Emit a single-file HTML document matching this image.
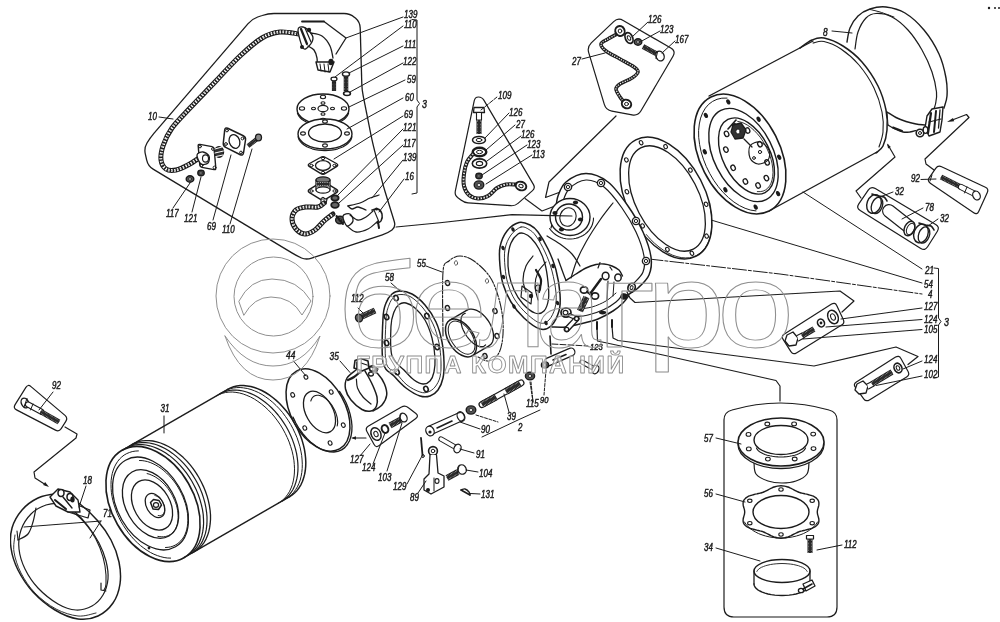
<!DOCTYPE html>
<html lang="ru"><head><meta charset="utf-8"><title>Схема</title>
<style>
html,body{margin:0;padding:0;background:#fff}
body{width:1000px;height:622px;overflow:hidden}
svg{display:block}
svg text{font-family:"Liberation Sans",sans-serif;font-style:italic;fill:#1c1c1c;stroke:#1c1c1c;stroke-width:0.45px}
svg .wm text,svg text.wm{font-style:normal;fill:none;stroke-width:1px}
</style></head><body>
<svg width="1000" height="622" viewBox="0 0 1000 622" stroke-linecap="round" stroke-linejoin="round">
<defs><filter id="soft" x="0" y="0" width="100%" height="100%"><feGaussianBlur stdDeviation="0.35"/></filter></defs>
<rect width="1000" height="622" fill="#fff"/>
<g filter="url(#soft)">
<path d="M248.1 23.6 Q252 19 257.7 17 L262.3 15.5 Q268 13.5 274 13.5 L344 13.5 Q350 13.5 354.6 17.4 L355.4 18.1 Q360 22 360.2 28 L361.8 84 Q362 90 363.2 95.9 L370.8 134.1 Q372 140 373.4 145.8 L381.6 179.2 Q383 185 384.8 190.7 L394.2 221.3 Q396 227 392 230 L392 230 Q388 233 382.3 234.9 L311.7 258.1 Q306 260 301.5 258 L301.5 258 Q297 256 291.9 252.9 L153.1 169.1 Q148 166 146.7 160.1 L145.3 153.9 Q144 148 147 143 L147 143 Q150 138 153.9 133.4 Z" fill="none" stroke="#1c1c1c" stroke-width="1.3"/>
<path d="M299 34 C295.8 33.7 286.2 31.3 280 32 C273.8 32.7 268.7 34 262 38 C255.3 42 247.8 48.7 240 56 C232.2 63.3 223.3 73.3 215 82 C206.7 90.7 197.2 100.3 190 108 C182.8 115.7 176.5 121.7 172 128 C167.5 134.3 164.8 140.7 163 146 C161.2 151.3 160.5 156.2 161 160 C161.5 163.8 163.5 167.3 166 169 C168.5 170.7 172.3 170.7 176 170 C179.7 169.3 184.2 167 188 165 C191.8 163 197.2 159.2 199 158" fill="none" stroke="#1c1c1c" stroke-width="5" stroke-linecap="round"/>
<path d="M299 34 C295.8 33.7 286.2 31.3 280 32 C273.8 32.7 268.7 34 262 38 C255.3 42 247.8 48.7 240 56 C232.2 63.3 223.3 73.3 215 82 C206.7 90.7 197.2 100.3 190 108 C182.8 115.7 176.5 121.7 172 128 C167.5 134.3 164.8 140.7 163 146 C161.2 151.3 160.5 156.2 161 160 C161.5 163.8 163.5 167.3 166 169 C168.5 170.7 172.3 170.7 176 170 C179.7 169.3 184.2 167 188 165 C191.8 163 197.2 159.2 199 158" fill="none" stroke="#fff" stroke-width="2.8" stroke-dasharray="1.6 1.4" stroke-linecap="butt"/>
<path d="M299 34 C295.8 33.7 286.2 31.3 280 32 C273.8 32.7 268.7 34 262 38 C255.3 42 247.8 48.7 240 56 C232.2 63.3 223.3 73.3 215 82 C206.7 90.7 197.2 100.3 190 108 C182.8 115.7 176.5 121.7 172 128 C167.5 134.3 164.8 140.7 163 146 C161.2 151.3 160.5 156.2 161 160 C161.5 163.8 163.5 167.3 166 169 C168.5 170.7 172.3 170.7 176 170 C179.7 169.3 184.2 167 188 165 C191.8 163 197.2 159.2 199 158" fill="none" stroke="#1c1c1c" stroke-width="0.5" stroke-dasharray="1.5 1.5" stroke-dashoffset="0.7" stroke-linecap="butt"/>
<path d="M298 30 C298 26.5 301.2 26.8 303 27 C304.8 27.2 307.3 29.2 309 31 C310.7 32.8 313 35.5 313 38 C313 40.5 310.7 44.3 309 46 C307.3 47.7 304.8 50.7 303 48 C301.2 45.3 298 33.5 298 30 Z" fill="#fff" stroke="#1c1c1c" stroke-width="1.3" />
<path d="M301 29 L307 44" fill="none" stroke="#1c1c1c" stroke-width="2.2" />
<path d="M305 28 L311 42" fill="none" stroke="#1c1c1c" stroke-width="1.2" />
<ellipse cx="309" cy="30" rx="2.2" ry="2.2" fill="#1c1c1c" stroke="none" stroke-width="0"/>
<ellipse cx="302" cy="47" rx="2" ry="2" fill="#1c1c1c" stroke="none" stroke-width="0"/>
<path d="M311 33 C312.8 33.5 318.8 33.8 322 36 C325.2 38.2 328.2 42.3 330 46 C331.8 49.7 332.5 56 333 58" fill="none" stroke="#1c1c1c" stroke-width="1.3" />
<path d="M308 46 C309 46.7 312.5 48 314 50 C315.5 52 316.5 55.7 317 58 C317.5 60.3 317 63 317 64" fill="none" stroke="#1c1c1c" stroke-width="1.3" />
<path d="M316 62 L318 70 L330 72 L334 62 L316 62" fill="#fff" stroke="#1c1c1c" stroke-width="1.4" />
<path d="M320 64 L321 71" fill="none" stroke="#1c1c1c" stroke-width="1" />
<path d="M324 64 L325 72" fill="none" stroke="#1c1c1c" stroke-width="1" />
<path d="M328 64 L329 72" fill="none" stroke="#1c1c1c" stroke-width="1" />
<ellipse cx="331" cy="62" rx="2.6" ry="3.2" fill="#1c1c1c" stroke="none" stroke-width="0"/>
<path d="M302 21.5 L324 21.5" fill="none" stroke="#1c1c1c" stroke-width="1.8" />
<path d="M324 21.5 L346 38 L336 54" fill="none" stroke="#1c1c1c" stroke-width="1.3" />
<path d="M334 80 L334 91" stroke="#1c1c1c" stroke-width="4.2" stroke-linecap="butt" fill="none"/>
<path d="M334 80 L334 91" stroke="#fff" stroke-width="2.6" stroke-dasharray="0.45 1.0" stroke-linecap="butt" fill="none"/>
<path d="M334 80 L334 91" stroke="#2a2a2a" stroke-width="1.8" stroke-linecap="butt" fill="none"/>
<ellipse cx="334" cy="79" rx="3" ry="1.8" fill="#fff" stroke="#1c1c1c" stroke-width="1.2"/>
<path d="M346 75 L346 91" stroke="#1c1c1c" stroke-width="4.6" stroke-linecap="butt" fill="none"/>
<path d="M346 75 L346 91" stroke="#fff" stroke-width="3" stroke-dasharray="0.45 1.0" stroke-linecap="butt" fill="none"/>
<path d="M346 75 L346 91" stroke="#2a2a2a" stroke-width="1.9" stroke-linecap="butt" fill="none"/>
<ellipse cx="346" cy="74" rx="3.6" ry="2.2" fill="#fff" stroke="#1c1c1c" stroke-width="1.3"/>
<ellipse cx="347" cy="93.5" rx="3.4" ry="2" fill="#fff" stroke="#1c1c1c" stroke-width="1.6"/>
<ellipse cx="323" cy="109" rx="26" ry="15" fill="#fff" stroke="#1c1c1c" stroke-width="1.4"/>
<path d="M348.6 113.1 L347.9 114.8 L346.9 116.4 L345.5 118 L343.9 119.5 L341.9 120.8 L339.7 122 L337.3 123 L334.7 123.9 L331.9 124.6 L329 125.1 L326 125.4 L323 125.5 L320 125.4 L317 125.1 L314.1 124.6 L311.3 123.9 L308.7 123 L306.3 122 L304.1 120.8 L302.1 119.5 L300.5 118 L299.1 116.4 L298.1 114.8 L297.4 113.1" fill="none" stroke="#1c1c1c" stroke-width="1.2" />
<ellipse cx="344" cy="108.5" rx="2.6" ry="1.7" fill="none" stroke="#1c1c1c" stroke-width="1.1"/>
<ellipse cx="332.5" cy="108.5" rx="2" ry="1.3" fill="none" stroke="#1c1c1c" stroke-width="1.1"/>
<ellipse cx="323" cy="120" rx="2.6" ry="1.7" fill="none" stroke="#1c1c1c" stroke-width="1.1"/>
<ellipse cx="323" cy="114" rx="2" ry="1.3" fill="none" stroke="#1c1c1c" stroke-width="1.1"/>
<ellipse cx="302" cy="108.5" rx="2.6" ry="1.7" fill="none" stroke="#1c1c1c" stroke-width="1.1"/>
<ellipse cx="313.5" cy="108.5" rx="2" ry="1.3" fill="none" stroke="#1c1c1c" stroke-width="1.1"/>
<ellipse cx="323" cy="97" rx="2.6" ry="1.7" fill="none" stroke="#1c1c1c" stroke-width="1.1"/>
<ellipse cx="323" cy="103" rx="2" ry="1.3" fill="none" stroke="#1c1c1c" stroke-width="1.1"/>
<ellipse cx="323" cy="108.5" rx="5" ry="3.2" fill="none" stroke="#1c1c1c" stroke-width="1.2"/>
<ellipse cx="325" cy="134" rx="27" ry="15" fill="#fff" stroke="#1c1c1c" stroke-width="1.4"/>
<path d="M351.9 136.9 L351.4 138.7 L350.5 140.5 L349.2 142.2 L347.6 143.8 L345.6 145.3 L343.2 146.7 L340.6 147.8 L337.8 148.8 L334.8 149.6 L331.6 150.1 L328.3 150.5 L325 150.6 L321.7 150.5 L318.4 150.1 L315.2 149.6 L312.2 148.8 L309.4 147.8 L306.8 146.7 L304.4 145.3 L302.4 143.8 L300.8 142.2 L299.5 140.5 L298.6 138.7 L298.1 136.9" fill="none" stroke="#1c1c1c" stroke-width="1.2" />
<ellipse cx="325" cy="133" rx="16.5" ry="9" fill="none" stroke="#1c1c1c" stroke-width="1.3"/>
<ellipse cx="347" cy="133.5" rx="2.4" ry="1.6" fill="none" stroke="#1c1c1c" stroke-width="1.1"/>
<ellipse cx="325" cy="145.5" rx="2.4" ry="1.6" fill="none" stroke="#1c1c1c" stroke-width="1.1"/>
<ellipse cx="303" cy="133.5" rx="2.4" ry="1.6" fill="none" stroke="#1c1c1c" stroke-width="1.1"/>
<ellipse cx="325" cy="121.5" rx="2.4" ry="1.6" fill="none" stroke="#1c1c1c" stroke-width="1.1"/>
<path d="M320.4 157.5 Q323 156 325.6 157.5 L336.4 163.5 Q339 165 336.5 166.6 L325.5 173.4 Q323 175 320.5 173.4 L309.5 166.6 Q307 165 309.6 163.5 Z" fill="#fff" stroke="#1c1c1c" stroke-width="1.4"/>
<ellipse cx="323" cy="165.5" rx="7.5" ry="4.8" fill="none" stroke="#1c1c1c" stroke-width="1.3"/>
<ellipse cx="323" cy="158.5" rx="1.7" ry="1.2" fill="none" stroke="#1c1c1c" stroke-width="1"/>
<ellipse cx="334.5" cy="165.5" rx="1.7" ry="1.2" fill="none" stroke="#1c1c1c" stroke-width="1"/>
<ellipse cx="323" cy="172.5" rx="1.7" ry="1.2" fill="none" stroke="#1c1c1c" stroke-width="1"/>
<ellipse cx="311.5" cy="165.5" rx="1.7" ry="1.2" fill="none" stroke="#1c1c1c" stroke-width="1"/>
<path d="M320.5 182.6 Q323 181 325.5 182.6 L336.5 189.4 Q339 191 336.5 192.6 L325.5 199.4 Q323 201 320.5 199.4 L309.5 192.6 Q307 191 309.5 189.4 Z" fill="#fff" stroke="#1c1c1c" stroke-width="1.4"/>
<path d="M316 180 L316 190 L330 190 L330 180" fill="#fff" stroke="#1c1c1c" stroke-width="1.3" />
<ellipse cx="323" cy="190" rx="7" ry="3.2" fill="#fff" stroke="#1c1c1c" stroke-width="1.2"/>
<ellipse cx="323" cy="180" rx="7" ry="3.2" fill="#777" stroke="#1c1c1c" stroke-width="1.3"/>
<path d="M316.5 184 L329.5 184" stroke="#1c1c1c" stroke-width="5" stroke-linecap="butt" fill="none"/>
<path d="M316.5 184 L329.5 184" stroke="#fff" stroke-width="3.4" stroke-dasharray="0.9 0.9" stroke-linecap="butt" fill="none"/>
<path d="M316.5 184 L329.5 184" stroke="#2a2a2a" stroke-width="2.1" stroke-linecap="butt" fill="none"/>
<ellipse cx="334.5" cy="191" rx="1.6" ry="1.2" fill="none" stroke="#1c1c1c" stroke-width="1"/>
<ellipse cx="323" cy="198.5" rx="1.6" ry="1.2" fill="none" stroke="#1c1c1c" stroke-width="1"/>
<ellipse cx="311.5" cy="191" rx="1.6" ry="1.2" fill="none" stroke="#1c1c1c" stroke-width="1"/>
<ellipse cx="335" cy="198" rx="3.6" ry="2.6" fill="#666" stroke="#1c1c1c" stroke-width="1.8"/>
<ellipse cx="335" cy="205" rx="3.8" ry="2.8" fill="#666" stroke="#1c1c1c" stroke-width="1.8"/>
<path d="M321 199 L327 199 L326 204 L321 204 Z" fill="#fff" stroke="#1c1c1c" stroke-width="1.2" />
<path d="M324 203 C323 203.7 321 206.3 318 207 C315 207.7 309.7 206.5 306 207 C302.3 207.5 298.3 208 296 210 C293.7 212 292 215.8 292 219 C292 222.2 293.8 226.5 296 229 C298.2 231.5 301.8 233.8 305 234 C308.2 234.2 311.8 232.2 315 230 C318.2 227.8 321 223.7 324 221 C327 218.3 331.5 215.2 333 214" fill="none" stroke="#1c1c1c" stroke-width="5" stroke-linecap="round"/>
<path d="M324 203 C323 203.7 321 206.3 318 207 C315 207.7 309.7 206.5 306 207 C302.3 207.5 298.3 208 296 210 C293.7 212 292 215.8 292 219 C292 222.2 293.8 226.5 296 229 C298.2 231.5 301.8 233.8 305 234 C308.2 234.2 311.8 232.2 315 230 C318.2 227.8 321 223.7 324 221 C327 218.3 331.5 215.2 333 214" fill="none" stroke="#fff" stroke-width="2.8" stroke-dasharray="1.6 1.4" stroke-linecap="butt"/>
<path d="M324 203 C323 203.7 321 206.3 318 207 C315 207.7 309.7 206.5 306 207 C302.3 207.5 298.3 208 296 210 C293.7 212 292 215.8 292 219 C292 222.2 293.8 226.5 296 229 C298.2 231.5 301.8 233.8 305 234 C308.2 234.2 311.8 232.2 315 230 C318.2 227.8 321 223.7 324 221 C327 218.3 331.5 215.2 333 214" fill="none" stroke="#1c1c1c" stroke-width="0.5" stroke-dasharray="1.5 1.5" stroke-dashoffset="0.7" stroke-linecap="butt"/>
<ellipse cx="340" cy="220" rx="4.4" ry="3.7" fill="#555" stroke="#1c1c1c" stroke-width="1.4"/>
<ellipse cx="340" cy="220" rx="1.8" ry="1.5" fill="#ddd" stroke="#1c1c1c" stroke-width="0.8"/>
<path d="M336.5 216 L343 224" fill="none" stroke="#1c1c1c" stroke-width="2" />
<path d="M343 216 C343.5 214 348.3 213.2 350 214 C351.7 214.8 353.5 219 353 221 C352.5 223 348.7 226.8 347 226 C345.3 225.2 342.5 218 343 216 Z" fill="#fff" stroke="#1c1c1c" stroke-width="1.3" />
<path d="M350 215 C351.3 215.8 355.3 219.7 358 220 C360.7 220.3 363.5 218.5 366 217 C368.5 215.5 371.8 212 373 211" fill="none" stroke="#1c1c1c" stroke-width="1.3" />
<path d="M347 226 C348.5 227 352.5 231.5 356 232 C359.5 232.5 364.3 230.8 368 229 C371.7 227.2 376.3 222.3 378 221" fill="none" stroke="#1c1c1c" stroke-width="1.3" />
<path d="M372 210 C373 209.8 376.3 208.3 378 209 C379.7 209.7 381.5 212 382 214 C382.5 216 381.8 219.5 381 221 C380.2 222.5 377.7 222.7 377 223" fill="none" stroke="#1c1c1c" stroke-width="1.5" />
<path d="M374 210 L379 222" fill="none" stroke="#1c1c1c" stroke-width="1.1" />
<path d="M378 222 L379 228" fill="none" stroke="#1c1c1c" stroke-width="2" />
<ellipse cx="376.5" cy="209" rx="1.6" ry="1.6" fill="#1c1c1c" stroke="none" stroke-width="0"/>
<path d="M348 206 C350 205.5 356.3 204.3 360 203 C363.7 201.7 366.8 199.3 370 198 C373.2 196.7 377.5 195.5 379 195" fill="none" stroke="#1c1c1c" stroke-width="1.3" />
<path d="M348 206 C348.7 206.5 350.3 208.8 352 209 C353.7 209.2 355.7 206.8 358 207 C360.3 207.2 364.7 209.5 366 210" fill="none" stroke="#1c1c1c" stroke-width="1.3" />
<path d="M198.2 146 Q198 144 200 144.4 L212 146.6 Q214 147 214.2 149 L215.8 168 Q216 170 214 169.6 L202 167.4 Q200 167 199.8 165 Z" fill="#fff" stroke="#1c1c1c" stroke-width="1.4"/>
<path d="M197 155 C197.3 153 201 151.8 203 152 C205 152.2 208.2 154.2 209 156 C209.8 157.8 209.3 161.7 208 163 C206.7 164.3 202.8 165.3 201 164 C199.2 162.7 196.7 157 197 155 Z" fill="#fff" stroke="#1c1c1c" stroke-width="1.3" />
<ellipse cx="205.5" cy="158.5" rx="3" ry="3.6" fill="none" stroke="#1c1c1c" stroke-width="1.1"/>
<ellipse cx="200" cy="146.5" rx="1.4" ry="1.4" fill="none" stroke="#1c1c1c" stroke-width="1"/>
<ellipse cx="213" cy="149" rx="1.4" ry="1.4" fill="none" stroke="#1c1c1c" stroke-width="1"/>
<ellipse cx="214.5" cy="167.5" rx="1.4" ry="1.4" fill="none" stroke="#1c1c1c" stroke-width="1"/>
<ellipse cx="201.5" cy="165.5" rx="1.4" ry="1.4" fill="none" stroke="#1c1c1c" stroke-width="1"/>
<ellipse cx="219" cy="152" rx="4.6" ry="5.4" fill="#333" stroke="#1c1c1c" stroke-width="1.2"/>
<path d="M215 149 L222 147" fill="none" stroke="#fff" stroke-width="1" />
<path d="M215 153 L223.5 151" fill="none" stroke="#fff" stroke-width="1" />
<path d="M216 156.5 L223 155" fill="none" stroke="#fff" stroke-width="1" />
<path d="M224.7 130 Q225 127 227.7 128.3 L243.3 135.7 Q246 137 245.5 140 L243.5 153 Q243 156 240.3 154.7 L225.7 147.3 Q223 146 223.3 143 Z" fill="#fff" stroke="#1c1c1c" stroke-width="1.5"/>
<ellipse cx="234.5" cy="141.5" rx="5.2" ry="7" fill="none" stroke="#1c1c1c" stroke-width="1.3" transform="rotate(-20 234.5 141.5)"/>
<ellipse cx="227" cy="130.5" rx="1.4" ry="1.4" fill="none" stroke="#1c1c1c" stroke-width="1"/>
<ellipse cx="242.5" cy="138.5" rx="1.4" ry="1.4" fill="none" stroke="#1c1c1c" stroke-width="1"/>
<ellipse cx="241" cy="152.5" rx="1.4" ry="1.4" fill="none" stroke="#1c1c1c" stroke-width="1"/>
<ellipse cx="226" cy="144" rx="1.4" ry="1.4" fill="none" stroke="#1c1c1c" stroke-width="1"/>
<path d="M248 146 L257 139" stroke="#1c1c1c" stroke-width="4.4" stroke-linecap="butt" fill="none"/>
<path d="M248 146 L257 139" stroke="#fff" stroke-width="2.8" stroke-dasharray="0.45 1.0" stroke-linecap="butt" fill="none"/>
<path d="M248 146 L257 139" stroke="#2a2a2a" stroke-width="1.8" stroke-linecap="butt" fill="none"/>
<ellipse cx="258.5" cy="137.5" rx="3" ry="3.4" fill="#888" stroke="#1c1c1c" stroke-width="1.3"/>
<ellipse cx="190" cy="179" rx="3.8" ry="3.2" fill="#555" stroke="#1c1c1c" stroke-width="1.4"/>
<ellipse cx="190" cy="179" rx="1.5" ry="1.3" fill="#ddd" stroke="#1c1c1c" stroke-width="0.8"/>
<ellipse cx="201" cy="173" rx="3.2" ry="2.7" fill="#555" stroke="#1c1c1c" stroke-width="1.4"/>
<ellipse cx="201" cy="173" rx="1.3" ry="1.1" fill="#ddd" stroke="#1c1c1c" stroke-width="0.8"/>
<path d="M403 17 L346 38" fill="none" stroke="#1c1c1c" stroke-width="1" />
<path d="M403 26 L335 77" fill="none" stroke="#1c1c1c" stroke-width="1" />
<path d="M403 46 L349 73" fill="none" stroke="#1c1c1c" stroke-width="1" />
<path d="M403 63 L350 92" fill="none" stroke="#1c1c1c" stroke-width="1" />
<path d="M405 80 L349 107" fill="none" stroke="#1c1c1c" stroke-width="1" />
<path d="M403 98 L347 129" fill="none" stroke="#1c1c1c" stroke-width="1" />
<path d="M403 116 L334 159" fill="none" stroke="#1c1c1c" stroke-width="1" />
<path d="M403 129 L337 196" fill="none" stroke="#1c1c1c" stroke-width="1" />
<path d="M403 145 L339 203" fill="none" stroke="#1c1c1c" stroke-width="1" />
<path d="M403 160 L372 198" fill="none" stroke="#1c1c1c" stroke-width="1" />
<path d="M404 179 L379 212" fill="none" stroke="#1c1c1c" stroke-width="1" />
<path d="M159 117 L173 119" fill="none" stroke="#1c1c1c" stroke-width="1" />
<path d="M190 183 L173 208" fill="none" stroke="#1c1c1c" stroke-width="1" />
<path d="M201 177 L192 212" fill="none" stroke="#1c1c1c" stroke-width="1" />
<path d="M231 155 L213 220" fill="none" stroke="#1c1c1c" stroke-width="1" />
<path d="M252 149 L230 224" fill="none" stroke="#1c1c1c" stroke-width="1" />
<text x="0" y="0" transform="translate(404 18) scale(0.8 1)" font-size="10" text-anchor="start">139</text>
<text x="0" y="0" transform="translate(404 28) scale(0.8 1)" font-size="10" text-anchor="start">110</text>
<text x="0" y="0" transform="translate(404 48) scale(0.8 1)" font-size="10" text-anchor="start">111</text>
<text x="0" y="0" transform="translate(403 65) scale(0.8 1)" font-size="10" text-anchor="start">122</text>
<text x="0" y="0" transform="translate(407 83) scale(0.8 1)" font-size="10" text-anchor="start">59</text>
<text x="0" y="0" transform="translate(405 101) scale(0.8 1)" font-size="10" text-anchor="start">60</text>
<text x="0" y="0" transform="translate(404 118) scale(0.8 1)" font-size="10" text-anchor="start">69</text>
<text x="0" y="0" transform="translate(403 131) scale(0.8 1)" font-size="10" text-anchor="start">121</text>
<text x="0" y="0" transform="translate(403 147) scale(0.8 1)" font-size="10" text-anchor="start">117</text>
<text x="0" y="0" transform="translate(403 161) scale(0.8 1)" font-size="10" text-anchor="start">139</text>
<text x="0" y="0" transform="translate(405 180) scale(0.8 1)" font-size="10" text-anchor="start">16</text>
<text x="0" y="0" transform="translate(148 120) scale(0.8 1)" font-size="10" text-anchor="start">10</text>
<text x="0" y="0" transform="translate(166 217) scale(0.8 1)" font-size="10" text-anchor="start">117</text>
<text x="0" y="0" transform="translate(184 222) scale(0.8 1)" font-size="10" text-anchor="start">121</text>
<text x="0" y="0" transform="translate(207 229.5) scale(0.8 1)" font-size="10" text-anchor="start">69</text>
<text x="0" y="0" transform="translate(222 232.5) scale(0.8 1)" font-size="10" text-anchor="start">110</text>
<text x="0" y="0" transform="translate(422 108) scale(0.8 1)" font-size="11" text-anchor="start">3</text>
<path d="M412 19.5 L417 20 L417 100 L419.5 103.5 L417 107 L417 193 L412 194" fill="none" stroke="#1c1c1c" stroke-width="1" />
<path d="M474.2 100.9 Q475 97 478.5 97 L478.5 97 Q482 97 484 100.4 L533.5 184.6 Q535.5 188 532.5 190.6 L518 203.4 Q515 206 511 205.7 L468 202.8 Q464 202.5 460.9 200 L457.6 197.5 Q454.5 195 455.3 191.1 Z" fill="none" stroke="#1c1c1c" stroke-width="1.2"/>
<path d="M474 107.5 L484 107.5 L484.5 112.5 L473.5 112.5 Z" fill="#fff" stroke="#1c1c1c" stroke-width="1.3" />
<path d="M476.5 113 L476.5 120 L481.5 120 L481.5 113" fill="#fff" stroke="#1c1c1c" stroke-width="1.1" />
<path d="M479 120 L479 134" stroke="#1c1c1c" stroke-width="5" stroke-linecap="butt" fill="none"/>
<path d="M479 120 L479 134" stroke="#fff" stroke-width="3.4" stroke-dasharray="0.45 1.0" stroke-linecap="butt" fill="none"/>
<path d="M479 120 L479 134" stroke="#2a2a2a" stroke-width="2.1" stroke-linecap="butt" fill="none"/>
<ellipse cx="479" cy="140" rx="6.5" ry="3.6" fill="#fff" stroke="#1c1c1c" stroke-width="1.5"/>
<ellipse cx="479" cy="140" rx="2.9" ry="1.6" fill="none" stroke="#1c1c1c" stroke-width="1"/>
<ellipse cx="479.5" cy="152" rx="6.8" ry="4.2" fill="#fff" stroke="#1c1c1c" stroke-width="2.4"/>
<ellipse cx="479.5" cy="152" rx="3" ry="1.7" fill="none" stroke="#1c1c1c" stroke-width="1"/>
<ellipse cx="479.5" cy="163.5" rx="7.2" ry="4.6" fill="#fff" stroke="#1c1c1c" stroke-width="1.6"/>
<ellipse cx="479.5" cy="163.5" rx="3.2" ry="2.1" fill="none" stroke="#1c1c1c" stroke-width="1.1"/>
<ellipse cx="479" cy="176" rx="3.2" ry="2.7" fill="#555" stroke="#1c1c1c" stroke-width="1.4"/>
<ellipse cx="479" cy="176" rx="1.3" ry="1.1" fill="#ddd" stroke="#1c1c1c" stroke-width="0.8"/>
<ellipse cx="479" cy="185" rx="4.8" ry="4.1" fill="#555" stroke="#1c1c1c" stroke-width="1.4"/>
<ellipse cx="479" cy="185" rx="1.9" ry="1.7" fill="#ddd" stroke="#1c1c1c" stroke-width="0.8"/>
<path d="M473 154 C472 155.3 468.5 158.7 467 162 C465.5 165.3 464.5 170 464 174 C463.5 178 463.2 182.5 464 186 C464.8 189.5 466.7 192.9 469 195 C471.3 197.1 474.8 198.3 478 198.5 C481.2 198.7 484.8 197.8 488 196 C491.2 194.2 494 189.9 497 188 C500 186.1 502.8 185.1 506 184.5 C509.2 183.9 514.3 184.5 516 184.5" fill="none" stroke="#1c1c1c" stroke-width="4" stroke-linecap="round"/>
<path d="M473 154 C472 155.3 468.5 158.7 467 162 C465.5 165.3 464.5 170 464 174 C463.5 178 463.2 182.5 464 186 C464.8 189.5 466.7 192.9 469 195 C471.3 197.1 474.8 198.3 478 198.5 C481.2 198.7 484.8 197.8 488 196 C491.2 194.2 494 189.9 497 188 C500 186.1 502.8 185.1 506 184.5 C509.2 183.9 514.3 184.5 516 184.5" fill="none" stroke="#fff" stroke-width="1.8" stroke-dasharray="1.6 1.4" stroke-linecap="butt"/>
<path d="M473 154 C472 155.3 468.5 158.7 467 162 C465.5 165.3 464.5 170 464 174 C463.5 178 463.2 182.5 464 186 C464.8 189.5 466.7 192.9 469 195 C471.3 197.1 474.8 198.3 478 198.5 C481.2 198.7 484.8 197.8 488 196 C491.2 194.2 494 189.9 497 188 C500 186.1 502.8 185.1 506 184.5 C509.2 183.9 514.3 184.5 516 184.5" fill="none" stroke="#1c1c1c" stroke-width="0.5" stroke-dasharray="1.5 1.5" stroke-dashoffset="0.7" stroke-linecap="butt"/>
<ellipse cx="521" cy="186" rx="5.4" ry="4.2" fill="#fff" stroke="#1c1c1c" stroke-width="2" transform="rotate(20 521 186)"/>
<ellipse cx="521" cy="186" rx="2.2" ry="1.6" fill="none" stroke="#1c1c1c" stroke-width="1" transform="rotate(20 521 186)"/>
<path d="M485 138 L509 113" fill="none" stroke="#1c1c1c" stroke-width="1" />
<path d="M486 150 L515 125" fill="none" stroke="#1c1c1c" stroke-width="1" />
<path d="M487 161 L521 136" fill="none" stroke="#1c1c1c" stroke-width="1" />
<path d="M482 175 L527 145" fill="none" stroke="#1c1c1c" stroke-width="1" />
<path d="M486 184 L532 155" fill="none" stroke="#1c1c1c" stroke-width="1" />
<path d="M481 110 L497 97" fill="none" stroke="#1c1c1c" stroke-width="1" stroke-dasharray="4 1.5" />
<text x="0" y="0" transform="translate(498 99) scale(0.8 1)" font-size="10" text-anchor="start">109</text>
<text x="0" y="0" transform="translate(509 116) scale(0.8 1)" font-size="10" text-anchor="start">126</text>
<text x="0" y="0" transform="translate(516 128) scale(0.8 1)" font-size="10" text-anchor="start">27</text>
<text x="0" y="0" transform="translate(521 138) scale(0.8 1)" font-size="10" text-anchor="start">126</text>
<text x="0" y="0" transform="translate(527 147.5) scale(0.8 1)" font-size="10" text-anchor="start">123</text>
<text x="0" y="0" transform="translate(532 157.5) scale(0.8 1)" font-size="10" text-anchor="start">113</text>
<path d="M616 116 L549 182 L545.5 197.5 L559 192.5" fill="none" stroke="#1c1c1c" stroke-width="1.2" />
<path d="M525 198.5 L542 211 L555 206" fill="none" stroke="#1c1c1c" stroke-width="1.1" />
<path d="M613.7 21.6 Q618 17.5 623.2 20.5 L670.8 48 Q676 51 673 56.2 L641 110.8 Q638 116 632.1 114.9 L611.9 111.1 Q606 110 604.3 104.3 L588.7 52.7 Q587 47 591.3 42.9 Z" fill="none" stroke="#1c1c1c" stroke-width="1.2"/>
<path d="M617 34 C615.5 34.8 610.7 37.3 608 39 C605.3 40.7 601.3 42 601 44 C600.7 46 602.8 48.5 606 51 C609.2 53.5 615.3 56.3 620 59 C624.7 61.7 631 64.8 634 67 C637 69.2 638.3 70.2 638 72 C637.7 73.8 635 76 632 78 C629 80 622.7 82.2 620 84 C617.3 85.8 616 86.8 616 89 C616 91.2 618.7 94.8 620 97 C621.3 99.2 623.3 101.2 624 102" fill="none" stroke="#1c1c1c" stroke-width="3.6" stroke-linecap="round"/>
<path d="M617 34 C615.5 34.8 610.7 37.3 608 39 C605.3 40.7 601.3 42 601 44 C600.7 46 602.8 48.5 606 51 C609.2 53.5 615.3 56.3 620 59 C624.7 61.7 631 64.8 634 67 C637 69.2 638.3 70.2 638 72 C637.7 73.8 635 76 632 78 C629 80 622.7 82.2 620 84 C617.3 85.8 616 86.8 616 89 C616 91.2 618.7 94.8 620 97 C621.3 99.2 623.3 101.2 624 102" fill="none" stroke="#fff" stroke-width="1.4" stroke-dasharray="1.3 1.2" stroke-linecap="butt"/>
<path d="M617 34 C615.5 34.8 610.7 37.3 608 39 C605.3 40.7 601.3 42 601 44 C600.7 46 602.8 48.5 606 51 C609.2 53.5 615.3 56.3 620 59 C624.7 61.7 631 64.8 634 67 C637 69.2 638.3 70.2 638 72 C637.7 73.8 635 76 632 78 C629 80 622.7 82.2 620 84 C617.3 85.8 616 86.8 616 89 C616 91.2 618.7 94.8 620 97 C621.3 99.2 623.3 101.2 624 102" fill="none" stroke="#1c1c1c" stroke-width="0.5" stroke-dasharray="1.5 1.5" stroke-dashoffset="0.7" stroke-linecap="butt"/>
<ellipse cx="620" cy="31" rx="4.6" ry="5" fill="#fff" stroke="#1c1c1c" stroke-width="2" transform="rotate(-30 620 31)"/>
<ellipse cx="620" cy="31" rx="1.8" ry="2" fill="none" stroke="#1c1c1c" stroke-width="1"/>
<ellipse cx="626.5" cy="104" rx="4.8" ry="4.2" fill="#fff" stroke="#1c1c1c" stroke-width="2" transform="rotate(30 626.5 104)"/>
<ellipse cx="626.5" cy="104" rx="2" ry="1.6" fill="none" stroke="#1c1c1c" stroke-width="1"/>
<ellipse cx="629" cy="38" rx="3.6" ry="5.6" fill="#fff" stroke="#1c1c1c" stroke-width="1.8" transform="rotate(-25 629 38)"/>
<ellipse cx="629" cy="38" rx="1.5" ry="2.4" fill="none" stroke="#1c1c1c" stroke-width="1" transform="rotate(-25 629 38)"/>
<ellipse cx="638" cy="42" rx="3.8" ry="3.2" fill="#555" stroke="#1c1c1c" stroke-width="1.4"/>
<ellipse cx="638" cy="42" rx="1.5" ry="1.3" fill="#ddd" stroke="#1c1c1c" stroke-width="0.8"/>
<path d="M643 46.5 L656 53.5" stroke="#1c1c1c" stroke-width="5" stroke-linecap="butt" fill="none"/>
<path d="M643 46.5 L656 53.5" stroke="#fff" stroke-width="3.4" stroke-dasharray="0.45 1.0" stroke-linecap="butt" fill="none"/>
<path d="M643 46.5 L656 53.5" stroke="#2a2a2a" stroke-width="2.1" stroke-linecap="butt" fill="none"/>
<ellipse cx="660" cy="56" rx="4" ry="5" fill="#fff" stroke="#1c1c1c" stroke-width="1.4" transform="rotate(-25 660 56)"/>
<path d="M657.5 52 L656 58.5" fill="none" stroke="#1c1c1c" stroke-width="1" />
<path d="M648 22 L632 37" fill="none" stroke="#1c1c1c" stroke-width="1" />
<path d="M660 31 L640 42" fill="none" stroke="#1c1c1c" stroke-width="1" />
<path d="M675 41 L662 53" fill="none" stroke="#1c1c1c" stroke-width="1" />
<path d="M582 59 L605 53" fill="none" stroke="#1c1c1c" stroke-width="1" />
<text x="0" y="0" transform="translate(648 23) scale(0.8 1)" font-size="10" text-anchor="start">126</text>
<text x="0" y="0" transform="translate(660 33) scale(0.8 1)" font-size="10" text-anchor="start">123</text>
<text x="0" y="0" transform="translate(675 43) scale(0.8 1)" font-size="10" text-anchor="start">167</text>
<text x="0" y="0" transform="translate(572 65) scale(0.8 1)" font-size="10" text-anchor="start">27</text>
<path d="M709 96 L813 41" fill="none" stroke="#1c1c1c" stroke-width="1.4" />
<path d="M769 211 L877 152" fill="none" stroke="#1c1c1c" stroke-width="1.4" />
<path d="M800 48 C802 46.7 808 41.7 812 40 C816 38.3 818.8 37 824 38 C829.2 39 836.7 42 843 46 C849.3 50 856.2 55.3 862 62 C867.8 68.7 874 78 878 86 C882 94 884.5 102.7 886 110 C887.5 117.3 887.5 124 887 130 C886.5 136 884.8 142.2 883 146 C881.2 149.8 877.2 151.8 876 153" fill="none" stroke="#1c1c1c" stroke-width="1.5" />
<path d="M813 43 C814.8 42.8 819.3 40.5 824 41.5 C828.7 42.5 835.2 45.1 841 49 C846.8 52.9 853.5 58.5 859 65 C864.5 71.5 870.2 80.2 874 88 C877.8 95.8 880.5 104.7 882 112 C883.5 119.3 883.5 126.2 883 132 C882.5 137.8 879.7 144.5 879 147" fill="none" stroke="#1c1c1c" stroke-width="1.1" />
<ellipse cx="740" cy="154" rx="64" ry="40" fill="#fff" stroke="#1c1c1c" stroke-width="1.6" transform="rotate(63 740 154)"/>
<path d="M756 210.9 L750.6 210.1 L745.1 208.3 L739.5 205.6 L733.9 202 L728.5 197.6 L723.2 192.5 L718.3 186.7 L713.8 180.4 L709.8 173.6 L706.3 166.5 L703.4 159.2 L701.1 151.8 L699.6 144.5 L698.7 137.3 L698.6 130.5 L699.3 124 L700.6 118.1 L702.7 112.7 L705.4 108.1 L708.7 104.3 L712.6 101.4 L717 99.3 L721.8 98.2 L727 98.1" fill="none" stroke="#1c1c1c" stroke-width="1" />
<ellipse cx="743.5" cy="155" rx="50" ry="29.5" fill="none" stroke="#1c1c1c" stroke-width="1.4" transform="rotate(63 743.5 155)"/>
<ellipse cx="746.5" cy="156" rx="41" ry="23.5" fill="none" stroke="#1c1c1c" stroke-width="1.4" transform="rotate(63 746.5 156)"/>
<path d="M737.7 121.4 L740.8 122.1 L744.1 123.3 L747.4 125.1 L750.7 127.4 L754 130.3 L757.2 133.6 L760.2 137.2 L762.9 141.2 L765.4 145.5 L767.6 150 L769.5 154.5 L771 159.1 L772.1 163.7 L772.7 168.1 L773 172.3 L772.7 176.3 L772.1 179.9 L771 183.2 L769.6 185.9 L767.7 188.2 L765.6 189.9 L763.1 191.1 L760.3 191.6 L757.3 191.6" fill="none" stroke="#1c1c1c" stroke-width="0.9" />
<ellipse cx="755.7" cy="207.1" rx="2.8" ry="1.9" fill="#1c1c1c" stroke="none" stroke-width="0" transform="rotate(63 755.7 207.1)"/>
<ellipse cx="725.4" cy="189.8" rx="2.8" ry="1.9" fill="#1c1c1c" stroke="none" stroke-width="0" transform="rotate(63 725.4 189.8)"/>
<ellipse cx="704.8" cy="151.8" rx="2.8" ry="1.9" fill="#1c1c1c" stroke="none" stroke-width="0" transform="rotate(63 704.8 151.8)"/>
<ellipse cx="705.9" cy="115.4" rx="2.8" ry="1.9" fill="#1c1c1c" stroke="none" stroke-width="0" transform="rotate(63 705.9 115.4)"/>
<ellipse cx="728.3" cy="101.9" rx="2.8" ry="1.9" fill="#1c1c1c" stroke="none" stroke-width="0" transform="rotate(63 728.3 101.9)"/>
<ellipse cx="758.6" cy="119.2" rx="2.8" ry="1.9" fill="#1c1c1c" stroke="none" stroke-width="0" transform="rotate(63 758.6 119.2)"/>
<ellipse cx="779.2" cy="157.2" rx="2.8" ry="1.9" fill="#1c1c1c" stroke="none" stroke-width="0" transform="rotate(63 779.2 157.2)"/>
<ellipse cx="778.1" cy="193.6" rx="2.8" ry="1.9" fill="#1c1c1c" stroke="none" stroke-width="0" transform="rotate(63 778.1 193.6)"/>
<ellipse cx="758.1" cy="185.5" rx="2.8" ry="2.1" fill="none" stroke="#1c1c1c" stroke-width="1.3" transform="rotate(63 758.1 185.5)"/>
<ellipse cx="745.4" cy="181.5" rx="2.8" ry="2.1" fill="none" stroke="#1c1c1c" stroke-width="1.3" transform="rotate(63 745.4 181.5)"/>
<ellipse cx="733.1" cy="167.8" rx="2.8" ry="2.1" fill="none" stroke="#1c1c1c" stroke-width="1.3" transform="rotate(63 733.1 167.8)"/>
<ellipse cx="725.9" cy="149.6" rx="2.8" ry="2.1" fill="none" stroke="#1c1c1c" stroke-width="1.3" transform="rotate(63 725.9 149.6)"/>
<ellipse cx="726.6" cy="133.9" rx="2.8" ry="2.1" fill="none" stroke="#1c1c1c" stroke-width="1.3" transform="rotate(63 726.6 133.9)"/>
<ellipse cx="734.9" cy="126.5" rx="2.8" ry="2.1" fill="none" stroke="#1c1c1c" stroke-width="1.3" transform="rotate(63 734.9 126.5)"/>
<ellipse cx="747.6" cy="130.5" rx="2.8" ry="2.1" fill="none" stroke="#1c1c1c" stroke-width="1.3" transform="rotate(63 747.6 130.5)"/>
<ellipse cx="759.9" cy="144.2" rx="2.8" ry="2.1" fill="none" stroke="#1c1c1c" stroke-width="1.3" transform="rotate(63 759.9 144.2)"/>
<ellipse cx="767.1" cy="162.4" rx="2.8" ry="2.1" fill="none" stroke="#1c1c1c" stroke-width="1.3" transform="rotate(63 767.1 162.4)"/>
<ellipse cx="766.4" cy="178.1" rx="2.8" ry="2.1" fill="none" stroke="#1c1c1c" stroke-width="1.3" transform="rotate(63 766.4 178.1)"/>
<path d="M750 146 C751.7 143.3 756.8 141.3 760 142 C763.2 142.7 767.7 147 769 150 C770.3 153 769.8 157.7 768 160 C766.2 162.3 761 164.3 758 164 C755 163.7 751.3 161 750 158 C748.7 155 748.3 148.7 750 146 Z" fill="none" stroke="#1c1c1c" stroke-width="1.2" />
<path d="M733 125 L741 123 L746 130 L743 138 L735 139 L731 132 Z" fill="#333" stroke="#1c1c1c" stroke-width="1.3" />
<ellipse cx="738" cy="131.5" rx="2.2" ry="2.6" fill="#fff" stroke="#1c1c1c" stroke-width="1"/>
<path d="M728 129 L736 120" fill="none" stroke="#1c1c1c" stroke-width="1.6" />
<path d="M744 139 L752 147" fill="none" stroke="#1c1c1c" stroke-width="1.3" />
<ellipse cx="760" cy="152" rx="1.6" ry="1.6" fill="none" stroke="#1c1c1c" stroke-width="1"/>
<ellipse cx="754" cy="158" rx="1.4" ry="1.4" fill="none" stroke="#1c1c1c" stroke-width="1"/>
<path d="M847 42 C847.5 39.7 848.2 32.3 850 28 C851.8 23.7 854.7 19.2 858 16 C861.3 12.8 865.3 10.5 870 9 C874.7 7.5 880.2 6.3 886 7 C891.8 7.7 898.7 9.2 905 13 C911.3 16.8 918.3 23.2 924 30 C929.7 36.8 935.3 46 939 54 C942.7 62 944.7 71 946 78 C947.3 85 947.3 91 947 96 C946.7 101 944.5 106 944 108" fill="none" stroke="#1c1c1c" stroke-width="1.4" />
<path d="M855 49 C855.5 46.2 856.2 37.2 858 32 C859.8 26.8 863 21.1 866 18 C869 14.9 871.7 13.7 876 13.5 C880.3 13.3 886.7 14.2 892 17 C897.3 19.8 903 24.5 908 30 C913 35.5 918 43 922 50 C926 57 929.6 65 932 72 C934.4 79 935.9 86.7 936.5 92 C937.1 97.3 936.1 100.8 935.5 104 C934.9 107.2 933.4 109.8 933 111" fill="none" stroke="#1c1c1c" stroke-width="1.2" />
<path d="M870 9.5 C871.7 9.9 876 10.8 880 12 C884 13.2 891.7 16.2 894 17" fill="none" stroke="#1c1c1c" stroke-width="1" />
<path d="M887 112 C888.5 112.9 892.8 115.9 896 117.5 C899.2 119.1 902.7 120.4 906 121.5 C909.3 122.6 912.8 123.4 916 124 C919.2 124.6 923.5 124.8 925 125" fill="none" stroke="#1c1c1c" stroke-width="1.4" />
<path d="M888 125 C889.2 125.7 892.5 127.8 895 129 C897.5 130.2 900.5 131.5 903 132 C905.5 132.5 907.8 132.2 910 132 C912.2 131.8 915 130.8 916 130.5" fill="none" stroke="#1c1c1c" stroke-width="1.3" />
<path d="M887 112 L888 125" fill="none" stroke="#1c1c1c" stroke-width="1" />
<path d="M893 127.5 L902 131" fill="none" stroke="#1c1c1c" stroke-width="2" />
<path d="M927 116 L932 109 L943 107 L942 120 L940 132 L929 136 L925 128 Z" fill="#fff" stroke="#1c1c1c" stroke-width="1.4" />
<path d="M931 113 L928 133" fill="none" stroke="#1c1c1c" stroke-width="2.2" />
<path d="M936 111 L934 132" fill="none" stroke="#1c1c1c" stroke-width="2" />
<path d="M940 110 L938.5 128" fill="none" stroke="#1c1c1c" stroke-width="1.3" />
<path d="M929 122 L941 119" fill="none" stroke="#1c1c1c" stroke-width="1.2" />
<ellipse cx="920" cy="133" rx="3.8" ry="3.8" fill="#fff" stroke="#1c1c1c" stroke-width="1.6"/>
<ellipse cx="920" cy="133" rx="1.5" ry="1.5" fill="none" stroke="#1c1c1c" stroke-width="1"/>
<ellipse cx="925.5" cy="130" rx="2.4" ry="3.4" fill="#fff" stroke="#1c1c1c" stroke-width="1.4"/>
<text x="0" y="0" transform="translate(823 35.5) scale(0.8 1)" font-size="10.5" text-anchor="start">8</text>
<path d="M832 31 L852 33" fill="none" stroke="#1c1c1c" stroke-width="1" />
<path d="M951 120.5 L966.5 114.5 L969 117.5 L925 159 L926 164 L934 170" fill="none" stroke="#1c1c1c" stroke-width="1.2" />
<path d="M947 122 L953 117.9 L954.2 121.3 Z" fill="#1c1c1c"/>
<path d="M935.7 168.3 Q938 165 941.6 166.7 L985.4 187.3 Q989 189 987.3 192.6 L978.7 211.4 Q977 215 973.7 212.8 L930.3 183.2 Q927 181 929.3 177.7 Z" fill="none" stroke="#1c1c1c" stroke-width="1.2"/>
<path d="M941 177 L962 187.5" stroke="#1c1c1c" stroke-width="5.2" stroke-linecap="butt" fill="none"/>
<path d="M941 177 L962 187.5" stroke="#fff" stroke-width="3.6" stroke-dasharray="0.45 1.0" stroke-linecap="butt" fill="none"/>
<path d="M941 177 L962 187.5" stroke="#2a2a2a" stroke-width="2.2" stroke-linecap="butt" fill="none"/>
<path d="M961 187 L975 194" stroke="#1c1c1c" stroke-width="6.4" stroke-linecap="round" fill="none"/>
<path d="M961 187 L975 194" stroke="#fff" stroke-width="4.2" stroke-linecap="round" fill="none"/>
<ellipse cx="976.5" cy="195.5" rx="3.6" ry="4.6" fill="#fff" stroke="#1c1c1c" stroke-width="1.3" transform="rotate(-25 976.5 195.5)"/>
<path d="M967 187 L964.5 193" fill="none" stroke="#1c1c1c" stroke-width="1" />
<text x="0" y="0" transform="translate(911 182) scale(0.8 1)" font-size="10" text-anchor="start">92</text>
<path d="M921 179.5 L936 179" fill="none" stroke="#1c1c1c" stroke-width="1" />
<path d="M932 175 L930 181" fill="none" stroke="#1c1c1c" stroke-width="1" />
<path d="M888 145 L895 157 L856 191 L861 198" fill="none" stroke="#1c1c1c" stroke-width="1.2" />
<path d="M887 143.5 L890.9 147 L888.1 148.6 Z" fill="#1c1c1c"/>
<path d="M868.2 190.1 Q871 186 875.3 188.6 L935.7 224.4 Q940 227 937.4 231.2 L927.6 246.8 Q925 251 920.8 248.4 L860.2 210.6 Q856 208 858.8 203.9 Z" fill="none" stroke="#1c1c1c" stroke-width="1.2"/>
<ellipse cx="874" cy="204" rx="7" ry="9.6" fill="#fff" stroke="#1c1c1c" stroke-width="1.4" transform="rotate(20 874 204)"/>
<ellipse cx="877" cy="205.5" rx="5.4" ry="8.4" fill="none" stroke="#1c1c1c" stroke-width="1.3" transform="rotate(20 877 205.5)"/>
<path d="M872 194 C873 194.3 876 195.5 878 196 C880 196.5 882.5 196.2 884 197 C885.5 197.8 886.5 200.3 887 201" fill="none" stroke="#1c1c1c" stroke-width="1.6" />
<path d="M889 211 L908 226" stroke="#1c1c1c" stroke-width="14" stroke-linecap="round" fill="none"/>
<path d="M889 211 L908 226" stroke="#fff" stroke-width="11.6" stroke-linecap="round" fill="none"/>
<ellipse cx="909.5" cy="228.5" rx="5" ry="7.6" fill="#fff" stroke="#1c1c1c" stroke-width="1.4" transform="rotate(25 909.5 228.5)"/>
<ellipse cx="910.5" cy="229" rx="3.6" ry="6" fill="none" stroke="#1c1c1c" stroke-width="1" transform="rotate(25 910.5 229)"/>
<ellipse cx="921" cy="233.5" rx="7" ry="9.6" fill="#fff" stroke="#1c1c1c" stroke-width="1.4" transform="rotate(20 921 233.5)"/>
<ellipse cx="924" cy="235" rx="5.4" ry="8.4" fill="none" stroke="#1c1c1c" stroke-width="1.3" transform="rotate(20 924 235)"/>
<path d="M919 223 C920 223.3 923 224.5 925 225 C927 225.5 929.5 225.2 931 226 C932.5 226.8 933.5 229.3 934 230" fill="none" stroke="#1c1c1c" stroke-width="1.6" />
<text x="0" y="0" transform="translate(895 195) scale(0.8 1)" font-size="10" text-anchor="start">32</text>
<text x="0" y="0" transform="translate(925 211) scale(0.8 1)" font-size="10" text-anchor="start">78</text>
<text x="0" y="0" transform="translate(940 221.5) scale(0.8 1)" font-size="10" text-anchor="start">32</text>
<path d="M893 192 L880 197" fill="none" stroke="#1c1c1c" stroke-width="1" />
<path d="M923 208 L902 219" fill="none" stroke="#1c1c1c" stroke-width="1" />
<path d="M938 219 L928 226" fill="none" stroke="#1c1c1c" stroke-width="1" />
<text x="0" y="0" transform="translate(925 273.5) scale(0.8 1)" font-size="10" text-anchor="start">21</text>
<text x="0" y="0" transform="translate(924 287.5) scale(0.8 1)" font-size="10" text-anchor="start">54</text>
<text x="0" y="0" transform="translate(928 298) scale(0.8 1)" font-size="10" text-anchor="start">4</text>
<text x="0" y="0" transform="translate(924 309.5) scale(0.8 1)" font-size="10" text-anchor="start">127</text>
<text x="0" y="0" transform="translate(924 322.5) scale(0.8 1)" font-size="10" text-anchor="start">124</text>
<text x="0" y="0" transform="translate(924 332.5) scale(0.8 1)" font-size="10" text-anchor="start">105</text>
<text x="0" y="0" transform="translate(924 362.5) scale(0.8 1)" font-size="10" text-anchor="start">124</text>
<text x="0" y="0" transform="translate(924 377.5) scale(0.8 1)" font-size="10" text-anchor="start">102</text>
<text x="0" y="0" transform="translate(944 326) scale(0.8 1)" font-size="11" text-anchor="start">3</text>
<path d="M934 268 L938.5 268.5 L938.5 318 L941 321.5 L938.5 325 L938.5 377 L934 378" fill="none" stroke="#1c1c1c" stroke-width="1" />
<path d="M803 192 L922 269" fill="none" stroke="#1c1c1c" stroke-width="1" />
<path d="M711 220 L922 283" fill="none" stroke="#1c1c1c" stroke-width="1" />
<path d="M649 259 L780 274 L922 294" fill="none" stroke="#1c1c1c" stroke-width="1" stroke-dasharray="14 2 3 2" />
<ellipse cx="666" cy="198" rx="65.5" ry="39" fill="#fff" stroke="#1c1c1c" stroke-width="1.5" transform="rotate(62.5 666 198)"/>
<ellipse cx="667" cy="198.5" rx="57" ry="31.5" fill="none" stroke="#1c1c1c" stroke-width="1.3" transform="rotate(62.5 667 198.5)"/>
<path d="M708.8 202 L710.2 208 L711.2 213.8 L711.7 219.6 L711.8 225.1 L711.4 230.3 L710.6 235.2 L709.3 239.7 L707.6 243.9 L705.5 247.5 L702.9 250.7 L700 253.3 L696.8 255.3 L693.3 256.8 L689.5 257.7 L685.5 257.9 L681.2 257.6 L676.9 256.6 L672.4 255.1 L667.9 252.9 L663.4 250.2 L659 247 L654.6 243.3 L650.3 239.1 L646.3 234.5" fill="none" stroke="#1c1c1c" stroke-width="0.9" />
<ellipse cx="691.9" cy="253.3" rx="2.2" ry="1.7" fill="none" stroke="#1c1c1c" stroke-width="1.1" transform="rotate(62 691.9 253.3)"/>
<ellipse cx="667.4" cy="249.4" rx="2.2" ry="1.7" fill="none" stroke="#1c1c1c" stroke-width="1.1" transform="rotate(62 667.4 249.4)"/>
<ellipse cx="642.6" cy="225.9" rx="2.2" ry="1.7" fill="none" stroke="#1c1c1c" stroke-width="1.1" transform="rotate(62 642.6 225.9)"/>
<ellipse cx="626.9" cy="191.7" rx="2.2" ry="1.7" fill="none" stroke="#1c1c1c" stroke-width="1.1" transform="rotate(62 626.9 191.7)"/>
<ellipse cx="626.4" cy="159.9" rx="2.2" ry="1.7" fill="none" stroke="#1c1c1c" stroke-width="1.1" transform="rotate(62 626.4 159.9)"/>
<ellipse cx="641.1" cy="142.7" rx="2.2" ry="1.7" fill="none" stroke="#1c1c1c" stroke-width="1.1" transform="rotate(62 641.1 142.7)"/>
<ellipse cx="665.6" cy="146.6" rx="2.2" ry="1.7" fill="none" stroke="#1c1c1c" stroke-width="1.1" transform="rotate(62 665.6 146.6)"/>
<ellipse cx="690.4" cy="170.1" rx="2.2" ry="1.7" fill="none" stroke="#1c1c1c" stroke-width="1.1" transform="rotate(62 690.4 170.1)"/>
<ellipse cx="706.1" cy="204.3" rx="2.2" ry="1.7" fill="none" stroke="#1c1c1c" stroke-width="1.1" transform="rotate(62 706.1 204.3)"/>
<ellipse cx="706.6" cy="236.1" rx="2.2" ry="1.7" fill="none" stroke="#1c1c1c" stroke-width="1.1" transform="rotate(62 706.6 236.1)"/>
<path d="M556 209 C556.3 196.7 556.3 200.5 558 196 C559.7 191.5 561.3 185.8 566 182 C570.7 178.2 579 173.5 586 173.5 C593 173.5 601 176.6 608 182 C615 187.4 622.2 197.7 628 206 C633.8 214.3 639.2 223.5 643 232 C646.8 240.5 650 249.8 651 257 C652 264.2 651.2 269.8 649 275 C646.8 280.2 641.8 284.5 638 288 C634.2 291.5 629.8 292 626 296 C622.2 300 621.8 311.3 615 312 C608.2 312.7 594.8 307 585 300 C575.2 293 560.8 285.2 556 270 C551.2 254.8 555.7 221.3 556 209 Z" fill="#fff" stroke="none" stroke-width="0" />
<path d="M556 209 C556.3 206.8 556.3 200.5 558 196 C559.7 191.5 561.3 185.8 566 182 C570.7 178.2 579 173.5 586 173.5 C593 173.5 601 176.6 608 182 C615 187.4 622.2 197.7 628 206 C633.8 214.3 639.2 223.5 643 232 C646.8 240.5 650 249.8 651 257 C652 264.2 651.2 269.8 649 275 C646.8 280.2 641.8 284.5 638 288 C634.2 291.5 628 294.7 626 296" fill="none" stroke="#1c1c1c" stroke-width="1.5" />
<path d="M562 204 C563.2 201.5 565 193 569 189 C573 185 580.2 180.3 586 180 C591.8 179.7 598 182.3 604 187 C610 191.7 616.7 200.5 622 208 C627.3 215.5 632.3 224 636 232 C639.7 240 642.8 249.3 644 256 C645.2 262.7 644.7 267.5 643 272 C641.3 276.5 635.5 281.2 634 283" fill="none" stroke="#1c1c1c" stroke-width="1.2" />
<ellipse cx="568" cy="187" rx="3.6" ry="3.6" fill="#fff" stroke="#1c1c1c" stroke-width="1.4"/>
<ellipse cx="568" cy="187" rx="1.6" ry="1.8" fill="none" stroke="#1c1c1c" stroke-width="1"/>
<ellipse cx="601" cy="183" rx="3.6" ry="3.6" fill="#fff" stroke="#1c1c1c" stroke-width="1.4"/>
<ellipse cx="601" cy="183" rx="1.6" ry="1.8" fill="none" stroke="#1c1c1c" stroke-width="1"/>
<ellipse cx="636" cy="221" rx="3.6" ry="3.6" fill="#fff" stroke="#1c1c1c" stroke-width="1.4"/>
<ellipse cx="636" cy="221" rx="1.6" ry="1.8" fill="none" stroke="#1c1c1c" stroke-width="1"/>
<ellipse cx="646" cy="261" rx="3.6" ry="3.6" fill="#fff" stroke="#1c1c1c" stroke-width="1.4"/>
<ellipse cx="646" cy="261" rx="1.6" ry="1.8" fill="none" stroke="#1c1c1c" stroke-width="1"/>
<path d="M613 203 C610.8 205.8 604.5 213.5 600 220 C595.5 226.5 589.8 235.3 586 242 C582.2 248.7 579.5 254 577 260 C574.5 266 572 275 571 278" fill="none" stroke="#1c1c1c" stroke-width="1.2" />
<path d="M547 236 C549.2 237.3 555.8 241 560 244 C564.2 247 568.7 250.3 572 254 C575.3 257.7 578.7 264 580 266" fill="none" stroke="#1c1c1c" stroke-width="1.2" />
<path d="M556 209 L551 228" fill="none" stroke="#1c1c1c" stroke-width="1.2" />
<ellipse cx="570" cy="217" rx="20" ry="18.5" fill="#fff" stroke="#1c1c1c" stroke-width="1.4"/>
<ellipse cx="569" cy="217" rx="13.5" ry="13" fill="none" stroke="#1c1c1c" stroke-width="1.4"/>
<ellipse cx="568" cy="217" rx="8" ry="9.4" fill="none" stroke="#1c1c1c" stroke-width="1.1" transform="rotate(20 568 217)"/>
<path d="M593.5 218 L593.4 220.3 L592.9 222.5 L592.3 224.8 L591.3 226.9 L590.1 228.9 L588.6 230.8 L587 232.5 L585.1 234.1 L583.1 235.5 L580.9 236.6 L578.5 237.6 L576.1 238.3 L573.6 238.8 L571 239 L568.5 239 L565.9 238.7 L563.4 238.2 L561 237.4 L558.7 236.4 L556.5 235.2 L554.5 233.8 L552.7 232.2 L551 230.4 L549.6 228.5" fill="none" stroke="#1c1c1c" stroke-width="1.1" />
<ellipse cx="575.5" cy="202.5" rx="2.6" ry="2.1" fill="#1c1c1c" stroke="none" stroke-width="0"/>
<ellipse cx="555" cy="213" rx="2.6" ry="2.1" fill="#1c1c1c" stroke="none" stroke-width="0"/>
<ellipse cx="580.5" cy="219.5" rx="2.6" ry="2.1" fill="#1c1c1c" stroke="none" stroke-width="0"/>
<ellipse cx="561.5" cy="229.5" rx="2.6" ry="2.1" fill="#1c1c1c" stroke="none" stroke-width="0"/>
<path d="M396 227 L440 222.8 L512 214.6 L553 215.6 L572 216" fill="none" stroke="#1c1c1c" stroke-width="1.1" />
<path d="M519 222.5 C515.2 223.5 510.2 226.9 507 231 C503.8 235.1 501.2 241.2 500 247 C498.8 252.8 499.5 259.8 500 266 C500.5 272.2 501.2 278 503 284 C504.8 290 507.5 296.3 511 302 C514.5 307.7 519.2 313.5 524 318 C528.8 322.5 535.5 327.7 540 329 C544.5 330.3 547.8 329 551 326 C554.2 323 557.5 316.3 559 311 C560.5 305.7 560.5 300.8 560 294 C559.5 287.2 558 277.5 556 270 C554 262.5 551 255.3 548 249 C545 242.7 541 236 538 232 C535 228 533.2 226.6 530 225 C526.8 223.4 522.8 221.5 519 222.5 Z" fill="#fff" stroke="#1c1c1c" stroke-width="1.5" />
<path d="M521 227 C518 227.9 513.7 231.3 511 235 C508.3 238.7 506 243.7 505 249 C504 254.3 504.5 261.2 505 267 C505.5 272.8 506.3 278.5 508 284 C509.7 289.5 511.8 295 515 300 C518.2 305 522.8 310.2 527 314 C531.2 317.8 536.3 322 540 323 C543.7 324 546.5 322.5 549 320 C551.5 317.5 553.8 312.5 555 308 C556.2 303.5 556.5 299.2 556 293 C555.5 286.8 553.8 277.8 552 271 C550.2 264.2 547.7 257.8 545 252 C542.3 246.2 538.7 239.8 536 236 C533.3 232.2 531.5 231 529 229.5 C526.5 228 524 226.1 521 227 Z" fill="none" stroke="#1c1c1c" stroke-width="0.9" />
<path d="M518 234 C515.8 235.6 512.7 239 511 243 C509.3 247 508.3 252.8 508 258 C507.7 263.2 508 268.7 509 274 C510 279.3 511.7 285 514 290 C516.3 295 519.5 300.2 523 304 C526.5 307.8 531.5 311.8 535 313 C538.5 314.2 541.8 313.3 544 311 C546.2 308.7 547.8 303.8 548.5 299 C549.2 294.2 548.6 287.8 548 282 C547.4 276.2 546.5 269.5 545 264 C543.5 258.5 541.3 253.3 539 249 C536.7 244.7 533.5 240.6 531 238 C528.5 235.4 526.2 234.2 524 233.5 C521.8 232.8 520.2 232.4 518 234 Z" fill="none" stroke="#1c1c1c" stroke-width="1.3" />
<ellipse cx="513" cy="229.5" rx="1.7" ry="2.4" fill="#1c1c1c" stroke="none" stroke-width="0" transform="rotate(-20 513 229.5)"/>
<ellipse cx="503" cy="248" rx="1.7" ry="2.4" fill="#1c1c1c" stroke="none" stroke-width="0" transform="rotate(-20 503 248)"/>
<ellipse cx="503.5" cy="277" rx="1.7" ry="2.4" fill="#1c1c1c" stroke="none" stroke-width="0" transform="rotate(-20 503.5 277)"/>
<ellipse cx="514" cy="306.5" rx="1.7" ry="2.4" fill="#1c1c1c" stroke="none" stroke-width="0" transform="rotate(-20 514 306.5)"/>
<ellipse cx="546" cy="323" rx="1.7" ry="2.4" fill="#1c1c1c" stroke="none" stroke-width="0" transform="rotate(-20 546 323)"/>
<ellipse cx="557.5" cy="303" rx="1.7" ry="2.4" fill="#1c1c1c" stroke="none" stroke-width="0" transform="rotate(-20 557.5 303)"/>
<ellipse cx="553" cy="266" rx="1.7" ry="2.4" fill="#1c1c1c" stroke="none" stroke-width="0" transform="rotate(-20 553 266)"/>
<ellipse cx="540" cy="239" rx="1.7" ry="2.4" fill="#1c1c1c" stroke="none" stroke-width="0" transform="rotate(-20 540 239)"/>
<path d="M533 256 C531.8 257.7 527.7 262 526 266 C524.3 270 523 275.7 523 280 C523 284.3 525.5 290 526 292" fill="none" stroke="#1c1c1c" stroke-width="1.2" />
<path d="M546 262 C544.7 263.7 539.8 268 538 272 C536.2 276 535 281.3 535 286 C535 290.7 537.5 297.7 538 300" fill="none" stroke="#1c1c1c" stroke-width="1.1" />
<path d="M522 286 L532 293 L531 304 L521 297 Z" fill="none" stroke="#1c1c1c" stroke-width="1.2" />
<path d="M536 270 C536.8 271.7 540.5 276.3 541 280 C541.5 283.7 539.3 290 539 292" fill="none" stroke="#1c1c1c" stroke-width="2.2" />
<ellipse cx="531" cy="296" rx="2.2" ry="2.2" fill="#1c1c1c" stroke="none" stroke-width="0"/>
<ellipse cx="538" cy="288" rx="2.6" ry="3" fill="none" stroke="#1c1c1c" stroke-width="1.2"/>
<path d="M558 259 C558.7 260.8 560.7 266.4 562 270 C563.3 273.6 565.3 278.8 566 280.5" fill="none" stroke="#1c1c1c" stroke-width="1.3" />
<path d="M566 280.5 C567.7 279.4 572.7 276.1 576 274 C579.3 271.9 582.7 269.6 586 268 C589.3 266.4 593 265.2 596 264.5 C599 263.8 601.3 263.8 604 264 C606.7 264.2 609.5 265 612 266 C614.5 267 617.2 268.3 619 270 C620.8 271.7 621.9 275 622.5 276" fill="none" stroke="#1c1c1c" stroke-width="1.4" />
<path d="M552 327 C554.3 327 561.3 327.5 566 327 C570.7 326.5 574.7 325.3 580 324 C585.3 322.7 592.5 321.2 598 319 C603.5 316.8 608.8 313.7 613 311 C617.2 308.3 620.4 305.5 623 303 C625.6 300.5 627.6 297.2 628.5 296" fill="none" stroke="#1c1c1c" stroke-width="1.5" />
<path d="M574 317 C576.3 316.7 583 316.2 588 315 C593 313.8 599.3 311.7 604 309.5 C608.7 307.3 612.8 304.6 616 302 C619.2 299.4 621.8 295.3 623 294" fill="none" stroke="#1c1c1c" stroke-width="1.2" />
<path d="M578 309 C580.3 308.7 587.3 308.3 592 307 C596.7 305.7 602 303.3 606 301 C610 298.7 614.3 294.3 616 293" fill="none" stroke="#1c1c1c" stroke-width="1" />
<ellipse cx="605.6" cy="276" rx="3.4" ry="3.8" fill="#fff" stroke="#1c1c1c" stroke-width="1.5"/>
<ellipse cx="618" cy="277.5" rx="3.2" ry="3.6" fill="#fff" stroke="#1c1c1c" stroke-width="1.5"/>
<path d="M598 268 L600 262.5" fill="none" stroke="#1c1c1c" stroke-width="1.2" />
<path d="M610 267 L612 270" fill="none" stroke="#1c1c1c" stroke-width="1.2" />
<path d="M601 279 L590 294" fill="none" stroke="#1c1c1c" stroke-width="2.4" />
<path d="M608 281 L607 300" fill="none" stroke="#1c1c1c" stroke-width="1.1" />
<path d="M614 282 L613 296" fill="none" stroke="#1c1c1c" stroke-width="1" />
<ellipse cx="584" cy="290" rx="3.6" ry="3.2" fill="#fff" stroke="#1c1c1c" stroke-width="1.7"/>
<ellipse cx="595" cy="296" rx="3.6" ry="3.2" fill="#fff" stroke="#1c1c1c" stroke-width="1.7"/>
<path d="M587 292 L592 294.5" fill="none" stroke="#1c1c1c" stroke-width="2" />
<path d="M586.5 297 L580 311" stroke="#1c1c1c" stroke-width="6.4" stroke-linecap="butt" fill="none"/>
<path d="M586.5 297 L580 311" stroke="#fff" stroke-width="4.8" stroke-dasharray="0.45 1.0" stroke-linecap="butt" fill="none"/>
<path d="M586.5 297 L580 311" stroke="#2a2a2a" stroke-width="2.7" stroke-linecap="butt" fill="none"/>
<ellipse cx="602.6" cy="312.6" rx="3.6" ry="1.8" fill="#1c1c1c" stroke="none" stroke-width="0"/>
<ellipse cx="566" cy="312.6" rx="5" ry="4.6" fill="#fff" stroke="#1c1c1c" stroke-width="1.7"/>
<ellipse cx="565.5" cy="312.6" rx="2.4" ry="2.2" fill="none" stroke="#1c1c1c" stroke-width="1.2"/>
<path d="M570 315.5 L577 318.5" fill="none" stroke="#1c1c1c" stroke-width="4.6" />
<path d="M570 315.5 L577 318.5" fill="none" stroke="#fff" stroke-width="2" />
<path d="M576.6 318.7 L566.7 329.4" fill="none" stroke="#1c1c1c" stroke-width="6" />
<path d="M576.6 318.7 L566.7 329.4" fill="none" stroke="#fff" stroke-width="3.2" />
<ellipse cx="576.6" cy="318.7" rx="2" ry="2" fill="#fff" stroke="#1c1c1c" stroke-width="1.3"/>
<ellipse cx="566.7" cy="329.4" rx="2" ry="2" fill="#fff" stroke="#1c1c1c" stroke-width="1.3"/>
<ellipse cx="631.6" cy="287.6" rx="3.6" ry="4.4" fill="#fff" stroke="#1c1c1c" stroke-width="1.7" transform="rotate(20 631.6 287.6)"/>
<ellipse cx="631.6" cy="287.6" rx="1.4" ry="2" fill="none" stroke="#1c1c1c" stroke-width="1" transform="rotate(20 631.6 287.6)"/>
<ellipse cx="624" cy="296.5" rx="3.6" ry="3.2" fill="#1c1c1c" stroke="none" stroke-width="0"/>
<path d="M597 328 L597.5 341 L663 355 L776 380.5 L780 386 L780 401" fill="none" stroke="#1c1c1c" stroke-width="1.2" />
<path d="M612 326 L613 338 L618 340.5 L814 366 L896 347 L918 356.5 L908 364.5" fill="none" stroke="#1c1c1c" stroke-width="1.2" />
<path d="M597 322 L597 329" fill="none" stroke="#1c1c1c" stroke-width="2" />
<path d="M612 320 L612 327" fill="none" stroke="#1c1c1c" stroke-width="2" />
<path d="M627 292 L630 298 L635 302.5 L840 291 L854 301 L842 312" fill="none" stroke="#1c1c1c" stroke-width="1.2" />
<path d="M443 336 C443 325.3 442 284.5 443 272 C444 259.5 446.2 263.7 449 261 C451.8 258.3 455.8 256 460 256 C464.2 256 469 257.5 474 261 C479 264.5 485.8 270.7 490 277 C494.2 283.3 496.8 291.5 499 299 C501.2 306.5 502.5 314.7 503 322 C503.5 329.3 503 337.3 502 343 C501 348.7 499.3 353 497 356 C494.7 359 491.2 360.8 488 361 C484.8 361.2 479.7 357.7 478 357" fill="none" stroke="#1c1c1c" stroke-width="1.1" stroke-dasharray="9 1.5 2 1.5" />
<ellipse cx="447.5" cy="283" rx="2" ry="2.6" fill="none" stroke="#1c1c1c" stroke-width="1.4" transform="rotate(-20 447.5 283)"/>
<ellipse cx="447.5" cy="308" rx="2" ry="2.6" fill="none" stroke="#1c1c1c" stroke-width="1.4" transform="rotate(-20 447.5 308)"/>
<ellipse cx="495" cy="311" rx="2" ry="2.6" fill="none" stroke="#1c1c1c" stroke-width="1.4" transform="rotate(-20 495 311)"/>
<ellipse cx="497" cy="336" rx="2" ry="2.6" fill="none" stroke="#1c1c1c" stroke-width="1.4" transform="rotate(-20 497 336)"/>
<ellipse cx="485" cy="356" rx="2" ry="2.6" fill="none" stroke="#1c1c1c" stroke-width="1.4" transform="rotate(-20 485 356)"/>
<ellipse cx="456" cy="263" rx="1.6" ry="2.2" fill="none" stroke="#1c1c1c" stroke-width="0.8" stroke-dasharray="1.5 1"/>
<ellipse cx="487" cy="281" rx="1.6" ry="2.2" fill="none" stroke="#1c1c1c" stroke-width="0.8" stroke-dasharray="1.5 1"/>
<path d="M449.6 320.4 L466.6 310.4 L468.6 309.5 L470.8 309.1 L473.3 309.3 L476 310.1 L478.7 311.5 L481.4 313.3 L483.9 315.6 L486.3 318.2 L488.5 321.2 L490.3 324.4 L491.8 327.6 L492.8 330.9 L493.4 334.1 L493.5 337.1 L493.1 339.8 L492.3 342.2 L491.1 344.2 L489.4 345.6 L472.4 355.6" fill="#fff" stroke="none" stroke-width="0" />
<path d="M449.6 320.4 L466.6 310.4" fill="none" stroke="#1c1c1c" stroke-width="1.3" />
<path d="M472.4 355.6 L489.4 345.6" fill="none" stroke="#1c1c1c" stroke-width="1.3" />
<path d="M466.6 310.4 L468 309.6 L469.7 309.2 L471.4 309.1 L473.3 309.3 L475.3 309.9 L477.3 310.7 L479.4 311.9 L481.4 313.3 L483.3 315 L485.2 316.9 L486.9 319 L488.5 321.2 L489.9 323.5 L491.1 326 L492.1 328.5 L492.8 330.9 L493.3 333.3 L493.5 335.6 L493.5 337.8 L493.1 339.8 L492.6 341.7 L491.8 343.2 L490.7 344.6 L489.4 345.6" fill="none" stroke="#1c1c1c" stroke-width="1.3" />
<ellipse cx="461" cy="338" rx="21" ry="12.5" fill="#fff" stroke="#1c1c1c" stroke-width="1.5" transform="rotate(57 461 338)"/>
<ellipse cx="461.6" cy="337.6" rx="18.5" ry="10.5" fill="none" stroke="#1c1c1c" stroke-width="1" transform="rotate(57 461.6 337.6)"/>
<path d="M485.6 344.8 L484.8 345.6 L483.9 346.2 L482.8 346.6 L481.6 346.7 L480.3 346.7 L479 346.4 L477.5 345.9 L476.1 345.1 L474.5 344.2 L473 343.1 L471.5 341.8 L470.1 340.3 L468.6 338.7 L467.3 337 L466 335.2 L464.9 333.3 L463.9 331.4 L463 329.4 L462.2 327.5 L461.7 325.6 L461.2 323.7 L461 322 L460.9 320.3 L461.1 318.8 L461.3 317.4 L461.8 316.2 L462.4 315.2 L463.2 314.4 L464.1 313.8 L465.2 313.4" fill="none" stroke="#1c1c1c" stroke-width="1.2" />
<path d="M383 362 C381.2 352.3 382.5 327.8 383 318 C383.5 308.2 384.5 307 386 303 C387.5 299 389.7 296 392 294 C394.3 292 396.7 291 400 291 C403.3 291 407.8 291.7 412 294 C416.2 296.3 421 300.3 425 305 C429 309.7 433.2 315.8 436 322 C438.8 328.2 440.7 335.3 442 342 C443.3 348.7 443.8 356 444 362 C444.2 368 444 373.3 443 378 C442 382.7 440.2 387 438 390 C435.8 393 433 395 430 396 C427 397 424 397.3 420 396 C416 394.7 410.3 391.3 406 388 C401.7 384.7 397.8 380.3 394 376 C390.2 371.7 384.8 371.7 383 362 Z" fill="none" stroke="#1c1c1c" stroke-width="1.5" />
<path d="M386 362 C384.3 353.2 385.5 329.5 386 320 C386.5 310.5 387.7 308.8 389 305 C390.3 301.2 392 298.8 394 297 C396 295.2 398.2 294.5 401 294.5 C403.8 294.5 407.3 294.8 411 297 C414.7 299.2 419.3 303.5 423 308 C426.7 312.5 430.3 318.2 433 324 C435.7 329.8 437.7 336.7 439 343 C440.3 349.3 440.8 356.3 441 362 C441.2 367.7 441 372.8 440 377 C439 381.2 437 384.5 435 387 C433 389.5 430.5 391.2 428 392 C425.5 392.8 423.5 393.2 420 392 C416.5 390.8 411 388.2 407 385 C403 381.8 399.5 376.8 396 373 C392.5 369.2 387.7 370.8 386 362 Z" fill="none" stroke="#1c1c1c" stroke-width="0.9" />
<path d="M392 356 C389.8 348.7 390.7 333.3 391 326 C391.3 318.7 392.7 315.6 394 312 C395.3 308.4 397 306 399 304.5 C401 303 403.3 302.4 406 303 C408.7 303.6 411.8 305.2 415 308 C418.2 310.8 422.2 315 425 320 C427.8 325 430.3 331.7 432 338 C433.7 344.3 434.7 352.3 435 358 C435.3 363.7 434.8 368.2 434 372 C433.2 375.8 431.8 379 430 381 C428.2 383 425.7 384.2 423 384 C420.3 383.8 417.2 382.3 414 380 C410.8 377.7 407.7 374 404 370 C400.3 366 394.2 363.3 392 356 Z" fill="none" stroke="#1c1c1c" stroke-width="1.3" />
<ellipse cx="396" cy="298" rx="2.1" ry="2.8" fill="none" stroke="#1c1c1c" stroke-width="1.6" transform="rotate(-25 396 298)"/>
<ellipse cx="386.5" cy="317" rx="2.1" ry="2.8" fill="none" stroke="#1c1c1c" stroke-width="1.6" transform="rotate(-25 386.5 317)"/>
<ellipse cx="386.5" cy="343" rx="2.1" ry="2.8" fill="none" stroke="#1c1c1c" stroke-width="1.6" transform="rotate(-25 386.5 343)"/>
<ellipse cx="397" cy="372" rx="2.1" ry="2.8" fill="none" stroke="#1c1c1c" stroke-width="1.6" transform="rotate(-25 397 372)"/>
<ellipse cx="426" cy="389" rx="2.1" ry="2.8" fill="none" stroke="#1c1c1c" stroke-width="1.6" transform="rotate(-25 426 389)"/>
<ellipse cx="437" cy="347" rx="2.1" ry="2.8" fill="none" stroke="#1c1c1c" stroke-width="1.6" transform="rotate(-25 437 347)"/>
<ellipse cx="427" cy="316" rx="2.1" ry="2.8" fill="none" stroke="#1c1c1c" stroke-width="1.6" transform="rotate(-25 427 316)"/>
<path d="M362 316.5 L375 310.5" stroke="#1c1c1c" stroke-width="6.2" stroke-linecap="butt" fill="none"/>
<path d="M362 316.5 L375 310.5" stroke="#fff" stroke-width="4.6" stroke-dasharray="0.45 1.0" stroke-linecap="butt" fill="none"/>
<path d="M362 316.5 L375 310.5" stroke="#2a2a2a" stroke-width="2.6" stroke-linecap="butt" fill="none"/>
<ellipse cx="359" cy="318" rx="3.4" ry="4" fill="#666" stroke="#1c1c1c" stroke-width="1.4" transform="rotate(-25 359 318)"/>
<path d="M426 266 L442 272" fill="none" stroke="#1c1c1c" stroke-width="1" />
<path d="M391 283 L400 291" fill="none" stroke="#1c1c1c" stroke-width="1" />
<path d="M358 308 L363 313" fill="none" stroke="#1c1c1c" stroke-width="1" />
<text x="0" y="0" transform="translate(417 267) scale(0.8 1)" font-size="10" text-anchor="start">55</text>
<text x="0" y="0" transform="translate(385 281) scale(0.8 1)" font-size="10" text-anchor="start">58</text>
<text x="0" y="0" transform="translate(351 302) scale(0.8 1)" font-size="10" text-anchor="start">112</text>
<path d="M132.4 444.3 L227.7 389.3" fill="none" stroke="#1c1c1c" stroke-width="1.4" />
<path d="M194.4 551.7 L289.7 496.7" fill="none" stroke="#1c1c1c" stroke-width="1.4" />
<path d="M227.7 389.3 L230.5 387.9 L233.6 386.8 L236.8 386 L240.1 385.6 L243.6 385.5 L247.2 385.9 L250.8 386.5 L254.4 387.5 L258.1 388.9 L261.8 390.5 L265.5 392.5 L269.2 394.9 L272.7 397.5 L276.2 400.4 L279.6 403.5 L282.8 406.9 L285.9 410.5 L288.9 414.4 L291.6 418.4 L294.2 422.5 L296.5 426.8 L298.6 431.2 L300.4 435.6 L302 440.1 L303.3 444.6 L304.4 449.1 L305.1 453.6 L305.6 458 L305.8 462.3 L305.7 466.5 L305.3 470.5 L304.6 474.4 L303.6 478.1 L302.4 481.5 L300.9 484.8 L299.1 487.7 L297.1 490.4 L294.8 492.8 L292.3 494.9 L289.7 496.7" fill="none" stroke="#1c1c1c" stroke-width="1.5" />
<path d="M224.2 391.3 L227.1 389.9 L230.1 388.8 L233.3 388 L236.7 387.6 L240.1 387.5 L243.7 387.9 L247.3 388.5 L251 389.5 L254.7 390.9 L258.4 392.5 L262.1 394.5 L265.7 396.9 L269.3 399.5 L272.8 402.4 L276.1 405.5 L279.4 408.9 L282.5 412.5 L285.4 416.4 L288.2 420.4 L290.7 424.5 L293 428.8 L295.1 433.2 L297 437.6 L298.5 442.1 L299.9 446.6 L300.9 451.1 L301.7 455.6 L302.1 460 L302.3 464.3 L302.2 468.5 L301.8 472.5 L301.1 476.4 L300.2 480.1 L298.9 483.5 L297.4 486.8 L295.6 489.7 L293.6 492.4 L291.4 494.8 L288.9 496.9 L286.2 498.7" fill="none" stroke="#1c1c1c" stroke-width="1" />
<path d="M219.9 393.8 L222.7 392.4 L225.8 391.3 L229 390.5 L232.3 390.1 L235.8 390 L239.4 390.4 L243 391 L246.6 392 L250.3 393.4 L254 395 L257.7 397 L261.4 399.4 L264.9 402 L268.4 404.9 L271.8 408 L275 411.4 L278.1 415 L281.1 418.9 L283.8 422.9 L286.4 427 L288.7 431.3 L290.8 435.7 L292.6 440.1 L294.2 444.6 L295.5 449.1 L296.6 453.6 L297.3 458.1 L297.8 462.5 L298 466.8 L297.9 471 L297.5 475 L296.8 478.9 L295.8 482.6 L294.6 486 L293.1 489.3 L291.3 492.2 L289.3 494.9 L287 497.3 L284.5 499.4 L281.9 501.2" fill="none" stroke="#1c1c1c" stroke-width="1.2" />
<path d="M216.4 395.8 L219.3 394.4 L222.3 393.3 L225.5 392.5 L228.9 392.1 L232.3 392 L235.9 392.4 L239.5 393 L243.2 394 L246.9 395.4 L250.6 397 L254.3 399 L257.9 401.4 L261.5 404 L265 406.9 L268.3 410 L271.6 413.4 L274.7 417 L277.6 420.9 L280.4 424.9 L282.9 429 L285.2 433.3 L287.3 437.7 L289.2 442.1 L290.7 446.6 L292.1 451.1 L293.1 455.6 L293.9 460.1 L294.3 464.5 L294.5 468.8 L294.4 473 L294 477 L293.3 480.9 L292.4 484.6 L291.1 488 L289.6 491.3 L287.8 494.2 L285.8 496.9 L283.6 499.3 L281.1 501.4 L278.4 503.2" fill="none" stroke="#1c1c1c" stroke-width="1" />
<ellipse cx="153" cy="504" rx="62" ry="41" fill="#fff" stroke="#1c1c1c" stroke-width="1.6" transform="rotate(60 153 504)"/>
<path d="M122.5 450.3 L125.3 448.4 L128.3 446.9 L131.6 445.7 L135 444.9 L138.5 444.6 L142.2 444.6 L146 445 L149.8 445.8 L153.7 447 L157.6 448.6 L161.5 450.5 L165.4 452.8 L169.2 455.4 L172.9 458.4 L176.5 461.6 L179.9 465.1 L183.2 468.9 L186.4 472.9 L189.3 477.1 L192 481.5 L194.4 486 L196.6 490.6 L198.5 495.3 L200.1 500.1 L201.4 504.9 L202.5 509.6 L203.2 514.3 L203.5 518.9 L203.6 523.4 L203.3 527.7 L202.7 531.9 L201.8 535.9 L200.6 539.6 L199.1 543.1 L197.2 546.3 L195.1 549.1 L192.8 551.7 L190.2 553.9 L187.3 555.8 L184.3 557.3" fill="none" stroke="#1c1c1c" stroke-width="1.2" />
<path d="M126 448.3 L128.8 446.4 L131.8 444.9 L135 443.7 L138.4 442.9 L142 442.6 L145.7 442.6 L149.4 443 L153.3 443.8 L157.2 445 L161.1 446.6 L165 448.5 L168.8 450.8 L172.6 453.4 L176.3 456.4 L179.9 459.6 L183.4 463.1 L186.7 466.9 L189.8 470.9 L192.7 475.1 L195.4 479.5 L197.9 484 L200.1 488.6 L202 493.3 L203.6 498.1 L204.9 502.9 L205.9 507.6 L206.6 512.3 L207 516.9 L207 521.4 L206.8 525.7 L206.2 529.9 L205.3 533.9 L204 537.6 L202.5 541.1 L200.7 544.3 L198.6 547.1 L196.2 549.7 L193.6 551.9 L190.8 553.8 L187.7 555.3" fill="none" stroke="#1c1c1c" stroke-width="1.2" />
<path d="M129.4 446.3 L132.2 444.4 L135.3 442.9 L138.5 441.7 L141.9 440.9 L145.5 440.6 L149.1 440.6 L152.9 441 L156.7 441.8 L160.6 443 L164.5 444.6 L168.4 446.5 L172.3 448.8 L176.1 451.4 L179.8 454.4 L183.4 457.6 L186.9 461.1 L190.2 464.9 L193.3 468.9 L196.2 473.1 L198.9 477.5 L201.3 482 L203.5 486.6 L205.4 491.3 L207.1 496.1 L208.4 500.9 L209.4 505.6 L210.1 510.3 L210.5 514.9 L210.5 519.4 L210.2 523.7 L209.6 527.9 L208.7 531.9 L207.5 535.6 L206 539.1 L204.2 542.3 L202.1 545.1 L199.7 547.7 L197.1 549.9 L194.2 551.8 L191.2 553.3" fill="none" stroke="#1c1c1c" stroke-width="1.3" />
<path d="M170.6 558.1 L167.4 558 L164.1 557.5 L160.8 556.7 L157.4 555.6 L153.9 554.2 L150.5 552.5 L147.1 550.4 L143.8 548.1 L140.5 545.6 L137.3 542.7 L134.2 539.7 L131.3 536.4 L128.5 532.9 L125.8 529.2 L123.3 525.4 L121 521.5 L118.9 517.4 L117.1 513.3 L115.5 509.1 L114.1 504.9 L112.9 500.7 L112 496.5 L111.4 492.4 L111.1 488.4 L111 484.4 L111.1 480.6 L111.6 476.9 L112.3 473.3 L113.3 470 L114.5 466.9 L116 464 L117.7 461.4 L119.6 459 L121.8 456.9 L124.1 455.1 L126.7 453.6 L129.4 452.5 L132.2 451.6 L135.2 451.1 L138.4 450.9" fill="none" stroke="#1c1c1c" stroke-width="1" />
<ellipse cx="150.5" cy="503.5" rx="50" ry="33" fill="none" stroke="#1c1c1c" stroke-width="1.3" transform="rotate(60 150.5 503.5)"/>
<path d="M139.5 460.5 L142.1 460.6 L144.8 461 L147.5 461.6 L150.2 462.5 L153 463.7 L155.8 465.1 L158.5 466.7 L161.3 468.6 L163.9 470.7 L166.5 473 L169 475.5 L171.4 478.1 L173.7 480.9 L175.9 483.9 L177.9 487 L179.7 490.2 L181.4 493.5 L182.9 496.8 L184.2 500.2 L185.4 503.6 L186.3 507 L187 510.4 L187.5 513.7 L187.8 517 L187.9 520.3 L187.7 523.4 L187.3 526.4 L186.8 529.2 L186 531.9 L185 534.4 L183.8 536.8 L182.4 538.9 L180.8 540.8 L179 542.5 L177.1 544 L175.1 545.2 L172.9 546.2 L170.5 546.9 L168.1 547.3 L165.5 547.5" fill="none" stroke="#1c1c1c" stroke-width="1" />
<ellipse cx="150.5" cy="504" rx="37" ry="24.5" fill="none" stroke="#1c1c1c" stroke-width="1.3" transform="rotate(60 150.5 504)"/>
<path d="M147.1 473.6 L149.1 474.1 L151.1 474.9 L153.1 475.8 L155.1 476.8 L157.1 478.1 L159.1 479.5 L161 481.1 L162.9 482.8 L164.7 484.7 L166.4 486.6 L168.1 488.7 L169.6 490.9 L171.1 493.2 L172.4 495.6 L173.6 498 L174.7 500.5 L175.7 502.9 L176.5 505.4 L177.1 507.9 L177.6 510.4 L178 512.9 L178.2 515.3 L178.2 517.6 L178.1 519.8 L177.8 522 L177.3 524.1 L176.8 526 L176 527.8 L175.1 529.5 L174.1 531 L172.9 532.4 L171.6 533.6 L170.2 534.6 L168.7 535.4 L167.1 536.1 L165.4 536.5 L163.6 536.8 L161.8 536.8 L159.9 536.7 L157.9 536.4" fill="none" stroke="#1c1c1c" stroke-width="1" />
<ellipse cx="152" cy="505" rx="27" ry="18" fill="none" stroke="#1c1c1c" stroke-width="1.3" transform="rotate(60 152 505)"/>
<ellipse cx="155" cy="505.5" rx="13" ry="8.5" fill="none" stroke="#1c1c1c" stroke-width="1.3" transform="rotate(60 155 505.5)"/>
<path d="M154.8 495.5 L155.8 495.8 L156.9 496.3 L158 496.9 L159 497.7 L160 498.6 L160.9 499.7 L161.8 500.8 L162.6 502 L163.2 503.3 L163.8 504.6 L164.2 505.9 L164.5 507.2 L164.7 508.5 L164.7 509.8 L164.6 510.9 L164.3 512 L163.9 513 L163.4 513.8 L162.7 514.5 L162 515 L161.2 515.4 L160.2 515.6 L159.3 515.6 L158.2 515.5" fill="none" stroke="#1c1c1c" stroke-width="0.9" />
<path d="M150.5 502.5 L153.5 499.5 L159 500.5 L161.5 505 L158.5 509.5 L153 509 Z" fill="#fff" stroke="#1c1c1c" stroke-width="1.5" />
<ellipse cx="156" cy="505" rx="2.6" ry="2.4" fill="none" stroke="#1c1c1c" stroke-width="1.2"/>
<ellipse cx="149" cy="548" rx="1.4" ry="1.4" fill="#1c1c1c" stroke="none" stroke-width="0"/>
<text x="0" y="0" transform="translate(160.5 412) scale(0.8 1)" font-size="10" text-anchor="start">31</text>
<path d="M164 416 L164 433" fill="none" stroke="#1c1c1c" stroke-width="1" />
<path d="M56 494 C51.3 494.3 43.7 495.3 38 498 C32.3 500.7 26.3 505 22 510 C17.7 515 13.8 521.7 12 528 C10.2 534.3 10 541 11 548 C12 555 14.3 562.7 18 570 C21.7 577.3 26.8 585.3 33 592 C39.2 598.7 47.5 605.5 55 610 C62.5 614.5 70.8 618 78 619 C85.2 620 92.2 618.7 98 616 C103.8 613.3 109.3 608.3 113 603 C116.7 597.7 119 590.8 120 584 C121 577.2 120.5 569.3 119 562 C117.5 554.7 114.7 547 111 540 C107.3 533 102.2 526 97 520 C91.8 514 85.2 508 80 504 C74.8 500 70 497.7 66 496 C62 494.3 60.7 493.7 56 494 Z" fill="none" stroke="#1c1c1c" stroke-width="1.5" />
<path d="M62 504 C57.2 502.8 51.2 503.3 46 505 C40.8 506.7 35.2 509.8 31 514 C26.8 518.2 23 524.2 21 530 C19 535.8 18.3 542.5 19 549 C19.7 555.5 21.8 562.5 25 569 C28.2 575.5 32.5 582.2 38 588 C43.5 593.8 51.7 600.3 58 604 C64.3 607.7 70.3 609.7 76 610 C81.7 610.3 87.5 608.5 92 606 C96.5 603.5 100.3 599.5 103 595 C105.7 590.5 107.5 584.7 108 579 C108.5 573.3 107.5 567 106 561 C104.5 555 102 548.8 99 543 C96 537.2 92 531.2 88 526 C84 520.8 79.3 515.7 75 512 C70.7 508.3 66.8 505.2 62 504 Z" fill="none" stroke="#1c1c1c" stroke-width="1.2" />
<path d="M15 535 C14.8 537.8 13 545.7 14 552 C15 558.3 17.5 566.2 21 573 C24.5 579.8 29.2 587 35 593 C40.8 599 48.8 605.2 56 609 C63.2 612.8 71.3 615.3 78 616 C84.7 616.7 93 613.5 96 613" fill="none" stroke="#1c1c1c" stroke-width="0.9" />
<path d="M64 508 C66.3 509.3 73.5 512.2 78 516 C82.5 519.8 87.3 525.7 91 531 C94.7 536.3 97.7 542.2 100 548 C102.3 553.8 104 560 105 566 C106 572 106.2 580 106 584 C105.8 588 104.3 589 104 590" fill="none" stroke="#1c1c1c" stroke-width="1.1" />
<path d="M101 583 L101 590 L106 591" fill="none" stroke="#1c1c1c" stroke-width="1.2" />
<path d="M36 508 C35.5 510.3 34.3 517.7 33 522 C31.7 526.3 30.5 531 28 534 C25.5 537 19.7 539 18 540" fill="none" stroke="#1c1c1c" stroke-width="1.2" />
<path d="M18 540 L17 531" fill="none" stroke="#1c1c1c" stroke-width="1.1" />
<path d="M50 497 L58 489 L70 492 L78 500 L80 512 L68 512 L56 506 Z" fill="#fff" stroke="#1c1c1c" stroke-width="1.4" />
<ellipse cx="61" cy="493" rx="3" ry="3.4" fill="#fff" stroke="#1c1c1c" stroke-width="1.5"/>
<ellipse cx="70" cy="497" rx="3" ry="3.4" fill="#fff" stroke="#1c1c1c" stroke-width="1.5"/>
<ellipse cx="72.5" cy="499.5" rx="2.2" ry="3" fill="#1c1c1c" stroke="none" stroke-width="0"/>
<path d="M55 500 L66 509" fill="none" stroke="#1c1c1c" stroke-width="2" />
<path d="M63 497 L72 508" fill="none" stroke="#1c1c1c" stroke-width="1.4" />
<path d="M68 512 L88 518 L90 510 L80 506" fill="none" stroke="#1c1c1c" stroke-width="1.2" />
<text x="0" y="0" transform="translate(83 483.5) scale(0.8 1)" font-size="10" text-anchor="start">18</text>
<path d="M86 486 L79 507" fill="none" stroke="#1c1c1c" stroke-width="1" />
<text x="0" y="0" transform="translate(103 516.5) scale(0.8 1)" font-size="10" text-anchor="start">71</text>
<path d="M101 521 L24 527" fill="none" stroke="#1c1c1c" stroke-width="1" />
<path d="M101 521 L90 538" fill="none" stroke="#1c1c1c" stroke-width="1" />
<path d="M25.9 387.4 Q28 384 31 386.6 L65 415.4 Q68 418 65.8 421.4 L61.2 428.6 Q59 432 55.5 430.1 L16.5 409.9 Q13 408 15.1 404.6 Z" fill="none" stroke="#1c1c1c" stroke-width="1.2"/>
<ellipse cx="25" cy="403" rx="3.6" ry="5" fill="#fff" stroke="#1c1c1c" stroke-width="1.4" transform="rotate(-25 25 403)"/>
<path d="M27 398.5 L24 407" fill="none" stroke="#1c1c1c" stroke-width="1" />
<path d="M28 404.5 L41 411.5" stroke="#1c1c1c" stroke-width="6.2" stroke-linecap="round" fill="none"/>
<path d="M28 404.5 L41 411.5" stroke="#fff" stroke-width="4" stroke-linecap="round" fill="none"/>
<path d="M33 404 L30.5 410" fill="none" stroke="#1c1c1c" stroke-width="1" />
<path d="M40.5 411.5 L59 422" stroke="#1c1c1c" stroke-width="5.4" stroke-linecap="butt" fill="none"/>
<path d="M40.5 411.5 L59 422" stroke="#fff" stroke-width="3.8" stroke-dasharray="0.45 1.0" stroke-linecap="butt" fill="none"/>
<path d="M40.5 411.5 L59 422" stroke="#2a2a2a" stroke-width="2.3" stroke-linecap="butt" fill="none"/>
<text x="0" y="0" transform="translate(52 389) scale(0.8 1)" font-size="10" text-anchor="start">92</text>
<path d="M53 392 L39 410" fill="none" stroke="#1c1c1c" stroke-width="1" />
<path d="M65 427 L77 434 L76 438 L34 472 L35 478 L46 485" fill="none" stroke="#1c1c1c" stroke-width="1.2" />
<path d="M49 487 L43.1 485 L45.1 482.1 Z" fill="#1c1c1c"/>
<ellipse cx="318" cy="410" rx="44.5" ry="27" fill="#fff" stroke="#1c1c1c" stroke-width="1.5" transform="rotate(61 318 410)"/>
<path d="M339.5 391.4 L343 396.8 L346 402.5 L348.4 408.4 L350.2 414.4 L351.4 420.3 L352 426 L351.8 431.4 L351 436.3 L349.5 440.7 L347.4 444.5 L344.8 447.6 L341.6 449.9 L337.9 451.4 L333.9 452 L329.6 451.8 L325 450.7 L320.4 448.8 L315.8 446 L311.2 442.6 L306.9 438.4 L302.8 433.7 L299 428.5 L295.8 423 L293 417.1" fill="none" stroke="#1c1c1c" stroke-width="1.3" />
<ellipse cx="319.5" cy="412" rx="22.5" ry="13.5" fill="none" stroke="#1c1c1c" stroke-width="1.3" transform="rotate(61 319.5 412)"/>
<path d="M310.8 401 L311.4 399.4 L312.1 398 L313.1 396.9 L314.3 396 L315.6 395.5 L317.1 395.2 L318.7 395.3 L320.4 395.7 L322.2 396.4 L323.9 397.4 L325.7 398.6 L327.5 400.1 L329.2 401.9 L330.8 403.8 L332.3 405.9 L333.6 408.2 L334.8 410.5 L335.8 412.9 L336.6 415.3 L337.2 417.6 L337.5 419.9 L337.7 422.1 L337.5 424.1 L337.2 426" fill="none" stroke="#1c1c1c" stroke-width="1.1" />
<ellipse cx="330.1" cy="443" rx="1.8" ry="2.3" fill="none" stroke="#1c1c1c" stroke-width="1.1" transform="rotate(-25 330.1 443)"/>
<ellipse cx="304.8" cy="428" rx="1.8" ry="2.3" fill="none" stroke="#1c1c1c" stroke-width="1.1" transform="rotate(-25 304.8 428)"/>
<ellipse cx="292.7" cy="394.9" rx="1.8" ry="2.3" fill="none" stroke="#1c1c1c" stroke-width="1.1" transform="rotate(-25 292.7 394.9)"/>
<ellipse cx="305.9" cy="377" rx="1.8" ry="2.3" fill="none" stroke="#1c1c1c" stroke-width="1.1" transform="rotate(-25 305.9 377)"/>
<ellipse cx="331.2" cy="392" rx="1.8" ry="2.3" fill="none" stroke="#1c1c1c" stroke-width="1.1" transform="rotate(-25 331.2 392)"/>
<ellipse cx="343.3" cy="425.1" rx="1.8" ry="2.3" fill="none" stroke="#1c1c1c" stroke-width="1.1" transform="rotate(-25 343.3 425.1)"/>
<text x="0" y="0" transform="translate(286 359) scale(0.8 1)" font-size="10.5" text-anchor="start">44</text>
<path d="M293.5 361 L306 376" fill="none" stroke="#1c1c1c" stroke-width="1" />
<path d="M356 370 C354.5 371.3 348.8 374.8 347 378 C345.2 381.2 344.8 385.3 345.5 389 C346.2 392.7 348.2 396.6 351 400 C353.8 403.4 358.7 407.7 362 409.5 C365.3 411.3 368.6 411.6 371 411 C373.4 410.4 375.5 408.3 376.5 406 C377.5 403.7 377.6 400.3 377 397 C376.4 393.7 374.4 389.3 373 386 C371.6 382.7 369.8 379.5 368.5 377 C367.2 374.5 365.6 372 365 371" fill="none" stroke="#1c1c1c" stroke-width="1.5" />
<path d="M372 370 C373 370.7 375.9 371.7 378 374 C380.1 376.3 383.1 380.5 384.5 384 C385.9 387.5 387.1 391.5 386.7 395 C386.3 398.5 384.3 402.3 382 405 C379.7 407.7 374.5 410 373 411" fill="none" stroke="#1c1c1c" stroke-width="1.5" />
<path d="M356.4 379 C356.6 380.5 356.4 385 357.5 388 C358.6 391 360.8 394.3 363 397 C365.2 399.7 369.7 402.8 371 404" fill="none" stroke="#1c1c1c" stroke-width="1.2" />
<path d="M348 380 C349 379.5 352 378.3 354 377 C356 375.7 359 372.8 360 372" fill="none" stroke="#1c1c1c" stroke-width="2.2" />
<path d="M354 368 L355 360.5 L361 358.5 L368 361 L369 368 L362 371 Z" fill="#fff" stroke="#1c1c1c" stroke-width="1.6" />
<path d="M357 362 L357 369" fill="none" stroke="#1c1c1c" stroke-width="1.6" />
<path d="M361 363 L367 365" fill="none" stroke="#1c1c1c" stroke-width="1.2" />
<ellipse cx="372.5" cy="368.5" rx="3" ry="2.8" fill="#fff" stroke="#1c1c1c" stroke-width="1.6"/>
<ellipse cx="376" cy="370.5" rx="1.8" ry="1.8" fill="#1c1c1c" stroke="none" stroke-width="0"/>
<path d="M368 366 L378 369" fill="none" stroke="#1c1c1c" stroke-width="1.3" />
<ellipse cx="371" cy="374" rx="2.4" ry="2" fill="#fff" stroke="#1c1c1c" stroke-width="1.3"/>
<text x="0" y="0" transform="translate(329.5 360) scale(0.8 1)" font-size="10.5" text-anchor="start">35</text>
<path d="M340 361 L350 372.5" fill="none" stroke="#1c1c1c" stroke-width="1" />
<path d="M401.5 407 Q405 405 408.1 407.5 L415.9 413.5 Q419 416 415.8 418.4 L379.2 445.6 Q376 448 374.1 444.5 L366.9 431.5 Q365 428 368.5 426 Z" fill="none" stroke="#1c1c1c" stroke-width="1.2"/>
<ellipse cx="376" cy="434" rx="4.8" ry="6.6" fill="#fff" stroke="#1c1c1c" stroke-width="1.5" transform="rotate(-25 376 434)"/>
<ellipse cx="376" cy="434" rx="2" ry="2.8" fill="none" stroke="#1c1c1c" stroke-width="1" transform="rotate(-25 376 434)"/>
<ellipse cx="385" cy="429" rx="3.2" ry="4" fill="#fff" stroke="#1c1c1c" stroke-width="2" transform="rotate(-25 385 429)"/>
<path d="M390 425.5 L402 419" stroke="#1c1c1c" stroke-width="6" stroke-linecap="butt" fill="none"/>
<path d="M390 425.5 L402 419" stroke="#fff" stroke-width="4.4" stroke-dasharray="0.45 1.0" stroke-linecap="butt" fill="none"/>
<path d="M390 425.5 L402 419" stroke="#2a2a2a" stroke-width="2.5" stroke-linecap="butt" fill="none"/>
<ellipse cx="403.5" cy="417.5" rx="3.4" ry="4.6" fill="#fff" stroke="#1c1c1c" stroke-width="1.3" transform="rotate(-25 403.5 417.5)"/>
<path d="M401 414 L399 421" fill="none" stroke="#1c1c1c" stroke-width="1" />
<path d="M366 438 L353 438" fill="none" stroke="#1c1c1c" stroke-width="1.1" />
<path d="M351 438 L356 436.2 L356 439.8 Z" fill="#1c1c1c"/>
<path d="M482 404.5 L521 383" stroke="#1c1c1c" stroke-width="7" stroke-linecap="round" fill="none"/>
<path d="M482 404.5 L521 383" stroke="#fff" stroke-width="4.6" stroke-linecap="round" fill="none"/>
<path d="M482 404.5 L496 397" stroke="#1c1c1c" stroke-width="7" stroke-linecap="butt" fill="none"/>
<path d="M482 404.5 L496 397" stroke="#fff" stroke-width="5.4" stroke-dasharray="0.45 1.0" stroke-linecap="butt" fill="none"/>
<path d="M482 404.5 L496 397" stroke="#2a2a2a" stroke-width="2.9" stroke-linecap="butt" fill="none"/>
<path d="M506 391.5 L520 383.5" stroke="#1c1c1c" stroke-width="7" stroke-linecap="butt" fill="none"/>
<path d="M506 391.5 L520 383.5" stroke="#fff" stroke-width="5.4" stroke-dasharray="0.45 1.0" stroke-linecap="butt" fill="none"/>
<path d="M506 391.5 L520 383.5" stroke="#2a2a2a" stroke-width="2.9" stroke-linecap="butt" fill="none"/>
<ellipse cx="530" cy="376" rx="4.6" ry="3.9" fill="#555" stroke="#1c1c1c" stroke-width="1.4"/>
<ellipse cx="530" cy="376" rx="1.8" ry="1.6" fill="#ddd" stroke="#1c1c1c" stroke-width="0.8"/>
<ellipse cx="471" cy="410" rx="4.8" ry="4.1" fill="#555" stroke="#1c1c1c" stroke-width="1.4"/>
<ellipse cx="471" cy="410" rx="1.9" ry="1.7" fill="#ddd" stroke="#1c1c1c" stroke-width="0.8"/>
<path d="M431 430 L460 417" stroke="#1c1c1c" stroke-width="10" stroke-linecap="round" fill="none"/>
<path d="M431 430 L460 417" stroke="#fff" stroke-width="7.6" stroke-linecap="round" fill="none"/>
<path d="M437 428 L452 421" fill="none" stroke="#1c1c1c" stroke-width="1.6" />
<ellipse cx="430" cy="431" rx="4" ry="5" fill="#fff" stroke="#1c1c1c" stroke-width="1.3" transform="rotate(-25 430 431)"/>
<ellipse cx="430" cy="432" rx="1.6" ry="1.6" fill="#1c1c1c" stroke="none" stroke-width="0"/>
<ellipse cx="461" cy="416.5" rx="3.6" ry="5" fill="none" stroke="#1c1c1c" stroke-width="1.2" transform="rotate(-25 461 416.5)"/>
<path d="M441 439 L455 447" stroke="#1c1c1c" stroke-width="5.4" stroke-linecap="round" fill="none"/>
<path d="M441 439 L455 447" stroke="#fff" stroke-width="3.2" stroke-linecap="round" fill="none"/>
<ellipse cx="457.5" cy="448.5" rx="3.4" ry="4.4" fill="#fff" stroke="#1c1c1c" stroke-width="1.3" transform="rotate(25 457.5 448.5)"/>
<path d="M421 438 L422.5 455" fill="none" stroke="#1c1c1c" stroke-width="1.8" />
<ellipse cx="423" cy="456" rx="1.2" ry="1.6" fill="none" stroke="#1c1c1c" stroke-width="1"/>
<ellipse cx="433" cy="451" rx="4.4" ry="4.4" fill="#fff" stroke="#1c1c1c" stroke-width="1.6"/>
<ellipse cx="433" cy="451" rx="1.8" ry="1.8" fill="none" stroke="#1c1c1c" stroke-width="1"/>
<path d="M430 455 L429 474 L424 479 L424 490 L431 494 L444 487 L444 476 L438 473 L436.5 455" fill="#fff" stroke="#1c1c1c" stroke-width="1.3" />
<ellipse cx="437" cy="481" rx="2" ry="2.4" fill="none" stroke="#1c1c1c" stroke-width="1.1"/>
<ellipse cx="428" cy="490" rx="2" ry="2" fill="#1c1c1c" stroke="none" stroke-width="0"/>
<path d="M434 478 L434 491" fill="none" stroke="#1c1c1c" stroke-width="1" />
<path d="M447 478 L458 472" stroke="#1c1c1c" stroke-width="6" stroke-linecap="butt" fill="none"/>
<path d="M447 478 L458 472" stroke="#fff" stroke-width="4.4" stroke-dasharray="0.45 1.0" stroke-linecap="butt" fill="none"/>
<path d="M447 478 L458 472" stroke="#2a2a2a" stroke-width="2.5" stroke-linecap="butt" fill="none"/>
<ellipse cx="462" cy="469.5" rx="4.2" ry="4.8" fill="#fff" stroke="#1c1c1c" stroke-width="1.3" transform="rotate(-25 462 469.5)"/>
<path d="M459 466 L457.5 473" fill="none" stroke="#1c1c1c" stroke-width="1" />
<path d="M461 490 C461.7 489.8 463.7 488.7 465 489 C466.3 489.3 468.2 491 469 492 C469.8 493 469.8 494.5 470 495" fill="none" stroke="#1c1c1c" stroke-width="1.3" />
<path d="M461 490 L470 495" fill="none" stroke="#1c1c1c" stroke-width="1.6" />
<path d="M370 444 L360 456" fill="none" stroke="#1c1c1c" stroke-width="1" />
<path d="M385 433 L373 464" fill="none" stroke="#1c1c1c" stroke-width="1" />
<path d="M402 423 L387 471" fill="none" stroke="#1c1c1c" stroke-width="1" />
<path d="M422 456 L407 484" fill="none" stroke="#1c1c1c" stroke-width="1" />
<path d="M426 481 L418 493" fill="none" stroke="#1c1c1c" stroke-width="1" />
<path d="M466 470 L478 472" fill="none" stroke="#1c1c1c" stroke-width="1" />
<path d="M470 493.5 L480 494" fill="none" stroke="#1c1c1c" stroke-width="1" />
<path d="M460 449 L474 453" fill="none" stroke="#1c1c1c" stroke-width="1" />
<path d="M460 422 L480 429" fill="none" stroke="#1c1c1c" stroke-width="1" />
<path d="M504 394 L509 412" fill="none" stroke="#1c1c1c" stroke-width="1" />
<path d="M530 382 L533 402" fill="none" stroke="#1c1c1c" stroke-width="1" stroke-dasharray="3 1.5" />
<path d="M476 415 L498 422" fill="none" stroke="#1c1c1c" stroke-width="1" stroke-dasharray="3 1.5" />
<path d="M482 437 L518 420 L540 410" fill="none" stroke="#1c1c1c" stroke-width="1" />
<text x="0" y="0" transform="translate(350 462.5) scale(0.8 1)" font-size="10" text-anchor="start">127</text>
<text x="0" y="0" transform="translate(362 470.5) scale(0.8 1)" font-size="10" text-anchor="start">124</text>
<text x="0" y="0" transform="translate(378 480.5) scale(0.8 1)" font-size="10" text-anchor="start">103</text>
<text x="0" y="0" transform="translate(393 489.5) scale(0.8 1)" font-size="10" text-anchor="start">129</text>
<text x="0" y="0" transform="translate(410 500.5) scale(0.8 1)" font-size="10" text-anchor="start">89</text>
<text x="0" y="0" transform="translate(476 458) scale(0.8 1)" font-size="10" text-anchor="start">91</text>
<text x="0" y="0" transform="translate(479 476.5) scale(0.8 1)" font-size="10" text-anchor="start">104</text>
<text x="0" y="0" transform="translate(481 497.5) scale(0.8 1)" font-size="10" text-anchor="start">131</text>
<text x="0" y="0" transform="translate(526 407) scale(0.8 1)" font-size="10" text-anchor="start">115</text>
<text x="0" y="0" transform="translate(507 419.5) scale(0.8 1)" font-size="10" text-anchor="start">39</text>
<text x="0" y="0" transform="translate(481 433) scale(0.8 1)" font-size="10" text-anchor="start">90</text>
<text x="0" y="0" transform="translate(518 431) scale(0.8 1)" font-size="10" text-anchor="start">2</text>
<path d="M724 420 Q724 412 732 410 Q780 396 829 410 Q837 412 837 420 L837 607 Q837 617 827 617 L734 617 Q724 617 724 607 Z" fill="none" stroke="#1c1c1c" stroke-width="1.2"/>
<path d="M754 462 C754.3 464 753.7 470.8 756 474 C758.3 477.2 763.7 479.5 768 481 C772.3 482.5 777.3 483 782 483 C786.7 483 791.8 482.5 796 481 C800.2 479.5 804.8 477.2 807 474 C809.2 470.8 808.7 464 809 462" fill="none" stroke="#1c1c1c" stroke-width="1.2" />
<ellipse cx="781" cy="444.5" rx="43" ry="24" fill="#fff" stroke="#1c1c1c" stroke-width="1.3"/>
<ellipse cx="781" cy="442" rx="43" ry="24" fill="#fff" stroke="#1c1c1c" stroke-width="1.5"/>
<ellipse cx="781" cy="440" rx="27" ry="14.5" fill="none" stroke="#1c1c1c" stroke-width="1.4"/>
<path d="M805.6 447.9 L804.9 449.2 L804 450.4 L802.7 451.5 L801.1 452.6 L799.2 453.5 L797.1 454.4 L794.7 455.2 L792.2 455.8 L789.6 456.3 L786.8 456.7 L783.9 456.9 L781 457 L778.1 456.9 L775.2 456.7 L772.4 456.3 L769.8 455.8 L767.3 455.2 L764.9 454.4 L762.8 453.5 L760.9 452.6 L759.3 451.5 L758 450.4 L757.1 449.2 L756.4 447.9" fill="none" stroke="#1c1c1c" stroke-width="1.1" />
<ellipse cx="813.5" cy="448.6" rx="2.4" ry="1.9" fill="none" stroke="#1c1c1c" stroke-width="1.1"/>
<ellipse cx="794.7" cy="459" rx="2.4" ry="1.9" fill="none" stroke="#1c1c1c" stroke-width="1.1"/>
<ellipse cx="767.9" cy="459.1" rx="2.4" ry="1.9" fill="none" stroke="#1c1c1c" stroke-width="1.1"/>
<ellipse cx="748.8" cy="448.9" rx="2.4" ry="1.9" fill="none" stroke="#1c1c1c" stroke-width="1.1"/>
<ellipse cx="748.5" cy="434.4" rx="2.4" ry="1.9" fill="none" stroke="#1c1c1c" stroke-width="1.1"/>
<ellipse cx="767.3" cy="424" rx="2.4" ry="1.9" fill="none" stroke="#1c1c1c" stroke-width="1.1"/>
<ellipse cx="794.1" cy="423.9" rx="2.4" ry="1.9" fill="none" stroke="#1c1c1c" stroke-width="1.1"/>
<ellipse cx="813.2" cy="434.1" rx="2.4" ry="1.9" fill="none" stroke="#1c1c1c" stroke-width="1.1"/>
<path d="M817.3 512 C817.3 512.7 817.4 513.3 817.5 514 C817.6 514.7 817.9 515.4 818.1 516.1 C818.3 516.8 818.5 517.6 818.7 518.3 C818.8 519.1 819 519.9 818.9 520.7 C818.9 521.4 818.8 522.2 818.5 523 C818.2 523.7 817.7 524.5 817.1 525.1 C816.5 525.8 815.8 526.4 814.9 526.9 C814 527.4 813 527.9 811.9 528.3 C810.9 528.7 809.7 529 808.6 529.3 C807.5 529.6 806.3 529.9 805.2 530.1 C804.1 530.4 803 530.6 802 530.9 C801 531.1 800.1 531.4 799.1 531.7 C798.2 532.1 797.4 532.4 796.5 532.9 C795.6 533.3 794.8 533.7 793.9 534.2 C793 534.7 792.1 535.2 791.1 535.7 C790.1 536.1 789.1 536.6 788 537 C786.9 537.3 785.8 537.7 784.6 537.9 C783.4 538.1 782.2 538.2 781 538.2 C779.8 538.2 778.6 538.1 777.4 537.9 C776.2 537.7 775.1 537.3 774 537 C772.9 536.6 771.9 536.1 770.9 535.7 C769.9 535.2 769 534.7 768.1 534.2 C767.2 533.7 766.4 533.3 765.5 532.9 C764.6 532.4 763.8 532.1 762.9 531.7 C761.9 531.4 761 531.1 760 530.9 C759 530.6 757.9 530.4 756.8 530.1 C755.7 529.9 754.5 529.6 753.4 529.3 C752.3 529 751.1 528.7 750.1 528.3 C749 527.9 748 527.4 747.1 526.9 C746.2 526.4 745.5 525.8 744.9 525.1 C744.3 524.5 743.8 523.7 743.5 523 C743.2 522.2 743.1 521.4 743.1 520.7 C743 519.9 743.2 519.1 743.3 518.3 C743.5 517.6 743.7 516.8 743.9 516.1 C744.1 515.4 744.4 514.7 744.5 514 C744.6 513.3 744.7 512.7 744.7 512 C744.7 511.3 744.6 510.7 744.5 510 C744.4 509.3 744.1 508.6 743.9 507.9 C743.7 507.2 743.5 506.4 743.3 505.7 C743.2 504.9 743 504.1 743.1 503.3 C743.1 502.6 743.2 501.8 743.5 501 C743.8 500.3 744.3 499.5 744.9 498.9 C745.5 498.2 746.2 497.6 747.1 497.1 C748 496.6 749 496.1 750.1 495.7 C751.1 495.3 752.3 495 753.4 494.7 C754.5 494.4 755.7 494.1 756.8 493.9 C757.9 493.6 759 493.4 760 493.1 C761 492.9 761.9 492.6 762.9 492.3 C763.8 491.9 764.6 491.6 765.5 491.1 C766.4 490.7 767.2 490.3 768.1 489.8 C769 489.3 769.9 488.8 770.9 488.3 C771.9 487.9 772.9 487.4 774 487 C775.1 486.7 776.2 486.3 777.4 486.1 C778.6 485.9 779.8 485.8 781 485.8 C782.2 485.8 783.4 485.9 784.6 486.1 C785.8 486.3 786.9 486.7 788 487 C789.1 487.4 790.1 487.9 791.1 488.3 C792.1 488.8 793 489.3 793.9 489.8 C794.8 490.3 795.6 490.7 796.5 491.1 C797.4 491.6 798.2 491.9 799.1 492.3 C800.1 492.6 801 492.9 802 493.1 C803 493.4 804.1 493.6 805.2 493.9 C806.3 494.1 807.5 494.4 808.6 494.7 C809.7 495 810.9 495.3 811.9 495.7 C813 496.1 814 496.6 814.9 497.1 C815.8 497.6 816.5 498.2 817.1 498.9 C817.7 499.5 818.2 500.3 818.5 501 C818.8 501.8 818.9 502.6 818.9 503.3 C819 504.1 818.8 504.9 818.7 505.7 C818.5 506.4 818.3 507.2 818.1 507.9 C817.9 508.6 817.6 509.3 817.5 510 C817.4 510.7 817.3 511.3 817.3 512 Z" fill="#fff" stroke="#1c1c1c" stroke-width="1.4" />
<ellipse cx="781" cy="512" rx="28" ry="16.5" fill="none" stroke="#1c1c1c" stroke-width="1.4"/>
<path d="M817.6 521.9 L816.1 524.2 L814.2 526.4 L811.9 528.4 L809.4 530.3 L806.5 532 L803.4 533.6 L800 534.9 L796.4 536 L792.7 536.9 L788.9 537.5 L785 537.9 L781 538 L777 537.9 L773.1 537.5 L769.3 536.9 L765.6 536 L762 534.9 L758.6 533.6 L755.5 532 L752.6 530.3 L750.1 528.4 L747.8 526.4 L745.9 524.2 L744.4 521.9" fill="none" stroke="#1c1c1c" stroke-width="1" />
<ellipse cx="812.2" cy="523.2" rx="2.2" ry="1.7" fill="none" stroke="#1c1c1c" stroke-width="1.1"/>
<ellipse cx="781" cy="534.5" rx="2.2" ry="1.7" fill="none" stroke="#1c1c1c" stroke-width="1.1"/>
<ellipse cx="749.8" cy="523.2" rx="2.2" ry="1.7" fill="none" stroke="#1c1c1c" stroke-width="1.1"/>
<ellipse cx="749.8" cy="500.8" rx="2.2" ry="1.7" fill="none" stroke="#1c1c1c" stroke-width="1.1"/>
<ellipse cx="781" cy="489.5" rx="2.2" ry="1.7" fill="none" stroke="#1c1c1c" stroke-width="1.1"/>
<ellipse cx="812.2" cy="500.8" rx="2.2" ry="1.7" fill="none" stroke="#1c1c1c" stroke-width="1.1"/>
<path d="M810 539 L810 553" stroke="#1c1c1c" stroke-width="5" stroke-linecap="butt" fill="none"/>
<path d="M810 539 L810 553" stroke="#fff" stroke-width="3.4" stroke-dasharray="0.45 1.0" stroke-linecap="butt" fill="none"/>
<path d="M810 539 L810 553" stroke="#2a2a2a" stroke-width="2.1" stroke-linecap="butt" fill="none"/>
<path d="M806.5 535.5 L813.5 535.5 L813.5 539 L806.5 539 Z" fill="#fff" stroke="#1c1c1c" stroke-width="1.2" />
<ellipse cx="782" cy="571" rx="28" ry="11.5" fill="none" stroke="#1c1c1c" stroke-width="1.4"/>
<path d="M810 584 L809.8 585.5 L809 587 L807.9 588.4 L806.2 589.8 L804.2 591 L801.8 592.1 L799 593.1 L796 594 L792.7 594.6 L789.2 595.1 L785.7 595.4 L782 595.5 L778.3 595.4 L774.8 595.1 L771.3 594.6 L768 594 L765 593.1 L762.2 592.1 L759.8 591 L757.8 589.8 L756.1 588.4 L755 587 L754.2 585.5 L754 584" fill="none" stroke="#1c1c1c" stroke-width="1.4" />
<path d="M754 571 L754 584" fill="none" stroke="#1c1c1c" stroke-width="1.3" />
<path d="M810 571 L810 584" fill="none" stroke="#1c1c1c" stroke-width="1.3" />
<path d="M756.9 571.4 L757.6 570.3 L758.6 569.2 L759.9 568.2 L761.5 567.3 L763.5 566.5 L765.6 565.7 L768 565.1 L770.6 564.5 L773.3 564.1 L776.1 563.8 L779 563.6 L782 563.5 L785 563.6 L787.9 563.8 L790.7 564.1 L793.4 564.5 L796 565.1 L798.4 565.7 L800.5 566.5 L802.5 567.3 L804.1 568.2 L805.4 569.2 L806.4 570.3 L807.1 571.4" fill="none" stroke="#1c1c1c" stroke-width="0.9" />
<path d="M803 584 L812 580 L815 586 L806 591 Z" fill="#fff" stroke="#1c1c1c" stroke-width="1.3" />
<ellipse cx="801" cy="590.5" rx="2.6" ry="2.2" fill="#fff" stroke="#1c1c1c" stroke-width="1.3"/>
<path d="M803 589 L812 584" fill="none" stroke="#1c1c1c" stroke-width="1.6" />
<text x="0" y="0" transform="translate(704 442) scale(0.8 1)" font-size="10" text-anchor="start">57</text>
<path d="M716 438 L741 444" fill="none" stroke="#1c1c1c" stroke-width="1" />
<text x="0" y="0" transform="translate(704 497) scale(0.8 1)" font-size="10" text-anchor="start">56</text>
<path d="M716 494 L745 502" fill="none" stroke="#1c1c1c" stroke-width="1" />
<text x="0" y="0" transform="translate(704 551) scale(0.8 1)" font-size="10" text-anchor="start">34</text>
<path d="M716 548 L760 561" fill="none" stroke="#1c1c1c" stroke-width="1" />
<text x="0" y="0" transform="translate(844 547.5) scale(0.8 1)" font-size="10" text-anchor="start">112</text>
<path d="M842 545 L817 550" fill="none" stroke="#1c1c1c" stroke-width="1" />
<path d="M831.6 304.1 Q835 302 836.7 305.6 L843.3 319.4 Q845 323 841.6 325.1 L796.4 352.9 Q793 355 790.9 351.6 L783.1 339.4 Q781 336 784.4 333.9 Z" fill="none" stroke="#1c1c1c" stroke-width="1.2"/>
<path d="M787 335 L793 332 L798 338 L796 345 L789 346 L785 341 Z" fill="#fff" stroke="#1c1c1c" stroke-width="1.3" />
<path d="M797 335.5 L802 333 L804 338 L798.5 341" fill="#fff" stroke="#1c1c1c" stroke-width="1.1" />
<path d="M802 336 L814 329" stroke="#1c1c1c" stroke-width="5.6" stroke-linecap="butt" fill="none"/>
<path d="M802 336 L814 329" stroke="#fff" stroke-width="4" stroke-dasharray="0.45 1.0" stroke-linecap="butt" fill="none"/>
<path d="M802 336 L814 329" stroke="#2a2a2a" stroke-width="2.4" stroke-linecap="butt" fill="none"/>
<ellipse cx="821" cy="323" rx="3.4" ry="4" fill="#fff" stroke="#1c1c1c" stroke-width="1.6" transform="rotate(-25 821 323)"/>
<ellipse cx="821" cy="323" rx="1.4" ry="1.4" fill="#1c1c1c" stroke="none" stroke-width="0"/>
<ellipse cx="833" cy="317" rx="5" ry="7" fill="#fff" stroke="#1c1c1c" stroke-width="1.5" transform="rotate(-25 833 317)"/>
<ellipse cx="833" cy="317" rx="2.2" ry="3.4" fill="none" stroke="#1c1c1c" stroke-width="1" transform="rotate(-25 833 317)"/>
<path d="M841 319 L922 308" fill="none" stroke="#1c1c1c" stroke-width="1" />
<path d="M826 327 L922 319.5" fill="none" stroke="#1c1c1c" stroke-width="1" />
<path d="M803 339 L922 329.5" fill="none" stroke="#1c1c1c" stroke-width="1" />
<path d="M895.6 357.1 Q899 355 900.9 358.5 L908.1 371.5 Q910 375 906.6 377.1 L869.4 399.9 Q866 402 863.7 398.8 L855.3 387.2 Q853 384 856.4 381.9 Z" fill="none" stroke="#1c1c1c" stroke-width="1.2"/>
<path d="M857 384 L863 381 L868 386 L866 393 L859 394 L855 390 Z" fill="#fff" stroke="#1c1c1c" stroke-width="1.3" />
<path d="M867 384 L872 381.5 L874 386 L868.5 389" fill="#fff" stroke="#1c1c1c" stroke-width="1.1" />
<path d="M872 384 L892 372" stroke="#1c1c1c" stroke-width="5.6" stroke-linecap="butt" fill="none"/>
<path d="M872 384 L892 372" stroke="#fff" stroke-width="4" stroke-dasharray="0.45 1.0" stroke-linecap="butt" fill="none"/>
<path d="M872 384 L892 372" stroke="#2a2a2a" stroke-width="2.4" stroke-linecap="butt" fill="none"/>
<ellipse cx="898" cy="368" rx="3.8" ry="5" fill="#fff" stroke="#1c1c1c" stroke-width="1.6" transform="rotate(-25 898 368)"/>
<ellipse cx="898" cy="368" rx="1.6" ry="2.4" fill="none" stroke="#1c1c1c" stroke-width="1" transform="rotate(-25 898 368)"/>
<path d="M903 369 L922 361" fill="none" stroke="#1c1c1c" stroke-width="1" />
<path d="M876 385.5 L922 376" fill="none" stroke="#1c1c1c" stroke-width="1" />
<ellipse cx="989" cy="8" rx="1.2" ry="1.2" fill="#1c1c1c" stroke="none" stroke-width="0"/>
<ellipse cx="995" cy="8" rx="1" ry="1" fill="#1c1c1c" stroke="none" stroke-width="0"/>
<ellipse cx="999" cy="8" rx="1" ry="1" fill="#1c1c1c" stroke="none" stroke-width="0"/>
<text x="0" y="0" transform="translate(590 350) scale(0.8 1)" font-size="9.5" text-anchor="start">123</text>
<path d="M552 344 L588 346" fill="none" stroke="#1c1c1c" stroke-width="1" stroke-dasharray="6 2" />
<path d="M550 336 L551 354" fill="none" stroke="#1c1c1c" stroke-width="1.6" />
<path d="M548 362 L571 352" stroke="#1c1c1c" stroke-width="9" stroke-linecap="round" fill="none"/>
<path d="M548 362 L571 352" stroke="#fff" stroke-width="6.6" stroke-linecap="round" fill="none"/>
<path d="M553 360 L566 354.5" fill="none" stroke="#1c1c1c" stroke-width="1.6" />
<ellipse cx="545" cy="365" rx="3.6" ry="3.1" fill="#555" stroke="#1c1c1c" stroke-width="1.4"/>
<ellipse cx="545" cy="365" rx="1.4" ry="1.3" fill="#ddd" stroke="#1c1c1c" stroke-width="0.8"/>
<path d="M582 362 L593 368" stroke="#1c1c1c" stroke-width="5" stroke-linecap="round" fill="none"/>
<path d="M582 362 L593 368" stroke="#fff" stroke-width="2.8" stroke-linecap="round" fill="none"/>
<ellipse cx="595.5" cy="369.5" rx="3.2" ry="4.4" fill="#fff" stroke="#1c1c1c" stroke-width="1.3" transform="rotate(25 595.5 369.5)"/>
<path d="M531 382 L533 402" fill="none" stroke="#1c1c1c" stroke-width="1" stroke-dasharray="3 1.5" />
<path d="M546 370 L544 395" fill="none" stroke="#1c1c1c" stroke-width="1" stroke-dasharray="3 1.5" />
<text x="0" y="0" transform="translate(540 402.5) scale(0.8 1)" font-size="9.5" text-anchor="start">90</text>
<g class="wm" stroke="#8f8f8f" stroke-width="1" fill="none">
<circle cx="273" cy="296" r="57"/>
<circle cx="273.5" cy="296.5" r="39.5"/>
<path d="M239 301 Q250 279 272 279 Q298 279 311 301 L302 315 Q292 297 271 297 Q254 297 244 315 Z"/>
<path d="M225 336 Q245 366 273 366 Q302 366 320 336 Q306 380 273 380 Q240 380 225 336 Z"/>
<text class="wm" transform="translate(336.4 347) scale(1.200 1)" font-size="121" vector-effect="non-scaling-stroke" style="stroke:#8f8f8f;stroke-width:1px">б</text>
<text class="wm" transform="translate(410 347) scale(1.147 1)" font-size="121" vector-effect="non-scaling-stroke" style="stroke:#8f8f8f;stroke-width:1px">е</text>
<text class="wm" transform="translate(479 347) scale(0.950 1)" font-size="121" vector-effect="non-scaling-stroke" style="stroke:#8f8f8f;stroke-width:1px">л</text>
<text class="wm" transform="translate(534.9 347) scale(0.980 1)" font-size="121" vector-effect="non-scaling-stroke" style="stroke:#8f8f8f;stroke-width:1px">а</text>
<text class="wm" transform="translate(595.5 347) scale(1.390 1)" font-size="121" vector-effect="non-scaling-stroke" style="stroke:#8f8f8f;stroke-width:1px">г</text>
<text class="wm" transform="translate(646.2 347) scale(1.176 1)" font-size="121" vector-effect="non-scaling-stroke" style="stroke:#8f8f8f;stroke-width:1px">р</text>
<text class="wm" transform="translate(717 347) scale(1.147 1)" font-size="121" vector-effect="non-scaling-stroke" style="stroke:#8f8f8f;stroke-width:1px">о</text>
<text class="wm" x="356" y="373" font-size="24.5" font-weight="bold" style="stroke:#8f8f8f;stroke-width:0.9px;fill:#fff;fill-opacity:0.6" textLength="268" lengthAdjust="spacing">ГРУППА КОМПАНИЙ</text>
</g>
</g>
</svg>
</body></html>
